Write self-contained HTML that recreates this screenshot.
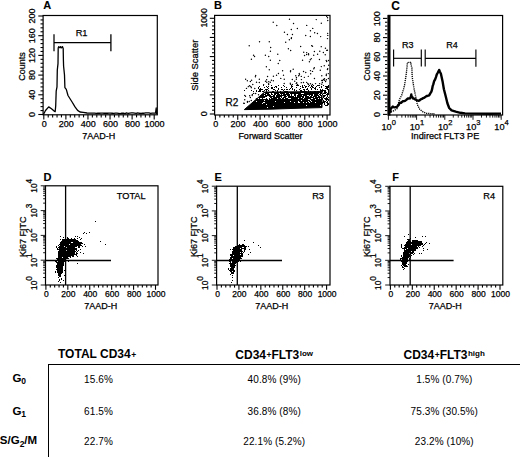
<!DOCTYPE html>
<html><head><meta charset="utf-8"><style>
html,body{margin:0;padding:0;background:#fff;}
body{width:520px;height:457px;position:relative;overflow:hidden;font-family:"Liberation Sans", sans-serif;color:#000;}
svg{position:absolute;left:0;top:0;font-family:"Liberation Sans", sans-serif;}
.hd{position:absolute;font-weight:bold;font-size:12px;line-height:14px;white-space:nowrap;}
.hd sup{font-size:8.5px;vertical-align:0;position:relative;top:-0.5px;margin-left:0.5px;}
.hd sup.w{font-size:8px;top:-2.2px;margin-left:0.5px;}
.rl{position:absolute;font-weight:bold;font-size:11.5px;line-height:14px;white-space:nowrap;}
.rl sub{font-size:8.5px;vertical-align:0;position:relative;top:2.3px;}
.cl{position:absolute;width:120px;text-align:center;font-size:10px;line-height:12px;white-space:nowrap;letter-spacing:0.1px;}
.tl{position:absolute;background:#000;}
</style></head><body>
<svg width="520" height="457" viewBox="0 0 520 457">
<text x="43.20" y="9.30" font-size="11" text-anchor="start" font-weight="bold" stroke="#000" stroke-width="0.1">A</text>
<rect x="43.10" y="15.50" width="114.20" height="99.30" fill="none" stroke="#000" stroke-width="1.2"/>
<line x1="38.30" y1="114.50" x2="43.10" y2="114.50" stroke="#000" stroke-width="1.1"/>
<line x1="40.50" y1="110.56" x2="43.10" y2="110.56" stroke="#000" stroke-width="1.1"/>
<line x1="40.50" y1="106.62" x2="43.10" y2="106.62" stroke="#000" stroke-width="1.1"/>
<line x1="40.50" y1="102.68" x2="43.10" y2="102.68" stroke="#000" stroke-width="1.1"/>
<line x1="40.50" y1="98.74" x2="43.10" y2="98.74" stroke="#000" stroke-width="1.1"/>
<line x1="38.30" y1="94.80" x2="43.10" y2="94.80" stroke="#000" stroke-width="1.1"/>
<line x1="40.50" y1="90.86" x2="43.10" y2="90.86" stroke="#000" stroke-width="1.1"/>
<line x1="40.50" y1="86.92" x2="43.10" y2="86.92" stroke="#000" stroke-width="1.1"/>
<line x1="40.50" y1="82.98" x2="43.10" y2="82.98" stroke="#000" stroke-width="1.1"/>
<line x1="40.50" y1="79.04" x2="43.10" y2="79.04" stroke="#000" stroke-width="1.1"/>
<line x1="38.30" y1="75.10" x2="43.10" y2="75.10" stroke="#000" stroke-width="1.1"/>
<line x1="40.50" y1="71.16" x2="43.10" y2="71.16" stroke="#000" stroke-width="1.1"/>
<line x1="40.50" y1="67.22" x2="43.10" y2="67.22" stroke="#000" stroke-width="1.1"/>
<line x1="40.50" y1="63.28" x2="43.10" y2="63.28" stroke="#000" stroke-width="1.1"/>
<line x1="40.50" y1="59.34" x2="43.10" y2="59.34" stroke="#000" stroke-width="1.1"/>
<line x1="38.30" y1="55.40" x2="43.10" y2="55.40" stroke="#000" stroke-width="1.1"/>
<line x1="40.50" y1="51.46" x2="43.10" y2="51.46" stroke="#000" stroke-width="1.1"/>
<line x1="40.50" y1="47.52" x2="43.10" y2="47.52" stroke="#000" stroke-width="1.1"/>
<line x1="40.50" y1="43.58" x2="43.10" y2="43.58" stroke="#000" stroke-width="1.1"/>
<line x1="40.50" y1="39.64" x2="43.10" y2="39.64" stroke="#000" stroke-width="1.1"/>
<line x1="38.30" y1="35.70" x2="43.10" y2="35.70" stroke="#000" stroke-width="1.1"/>
<line x1="40.50" y1="31.76" x2="43.10" y2="31.76" stroke="#000" stroke-width="1.1"/>
<line x1="40.50" y1="27.82" x2="43.10" y2="27.82" stroke="#000" stroke-width="1.1"/>
<line x1="40.50" y1="23.88" x2="43.10" y2="23.88" stroke="#000" stroke-width="1.1"/>
<line x1="40.50" y1="19.94" x2="43.10" y2="19.94" stroke="#000" stroke-width="1.1"/>
<line x1="38.30" y1="16.00" x2="43.10" y2="16.00" stroke="#000" stroke-width="1.1"/>
<line x1="43.80" y1="114.80" x2="43.80" y2="119.60" stroke="#000" stroke-width="1.1"/>
<line x1="48.22" y1="114.80" x2="48.22" y2="117.40" stroke="#000" stroke-width="1.1"/>
<line x1="52.63" y1="114.80" x2="52.63" y2="117.40" stroke="#000" stroke-width="1.1"/>
<line x1="57.05" y1="114.80" x2="57.05" y2="117.40" stroke="#000" stroke-width="1.1"/>
<line x1="61.46" y1="114.80" x2="61.46" y2="117.40" stroke="#000" stroke-width="1.1"/>
<line x1="65.88" y1="114.80" x2="65.88" y2="119.60" stroke="#000" stroke-width="1.1"/>
<line x1="70.30" y1="114.80" x2="70.30" y2="117.40" stroke="#000" stroke-width="1.1"/>
<line x1="74.71" y1="114.80" x2="74.71" y2="117.40" stroke="#000" stroke-width="1.1"/>
<line x1="79.13" y1="114.80" x2="79.13" y2="117.40" stroke="#000" stroke-width="1.1"/>
<line x1="83.54" y1="114.80" x2="83.54" y2="117.40" stroke="#000" stroke-width="1.1"/>
<line x1="87.96" y1="114.80" x2="87.96" y2="119.60" stroke="#000" stroke-width="1.1"/>
<line x1="92.38" y1="114.80" x2="92.38" y2="117.40" stroke="#000" stroke-width="1.1"/>
<line x1="96.79" y1="114.80" x2="96.79" y2="117.40" stroke="#000" stroke-width="1.1"/>
<line x1="101.21" y1="114.80" x2="101.21" y2="117.40" stroke="#000" stroke-width="1.1"/>
<line x1="105.62" y1="114.80" x2="105.62" y2="117.40" stroke="#000" stroke-width="1.1"/>
<line x1="110.04" y1="114.80" x2="110.04" y2="119.60" stroke="#000" stroke-width="1.1"/>
<line x1="114.46" y1="114.80" x2="114.46" y2="117.40" stroke="#000" stroke-width="1.1"/>
<line x1="118.87" y1="114.80" x2="118.87" y2="117.40" stroke="#000" stroke-width="1.1"/>
<line x1="123.29" y1="114.80" x2="123.29" y2="117.40" stroke="#000" stroke-width="1.1"/>
<line x1="127.70" y1="114.80" x2="127.70" y2="117.40" stroke="#000" stroke-width="1.1"/>
<line x1="132.12" y1="114.80" x2="132.12" y2="119.60" stroke="#000" stroke-width="1.1"/>
<line x1="136.54" y1="114.80" x2="136.54" y2="117.40" stroke="#000" stroke-width="1.1"/>
<line x1="140.95" y1="114.80" x2="140.95" y2="117.40" stroke="#000" stroke-width="1.1"/>
<line x1="145.37" y1="114.80" x2="145.37" y2="117.40" stroke="#000" stroke-width="1.1"/>
<line x1="149.78" y1="114.80" x2="149.78" y2="117.40" stroke="#000" stroke-width="1.1"/>
<line x1="154.20" y1="114.80" x2="154.20" y2="119.60" stroke="#000" stroke-width="1.1"/>
<text x="35.30" y="114.50" font-size="9" text-anchor="middle" font-weight="normal" stroke="#000" stroke-width="0.25" transform="rotate(-90 35.30 114.50)">0</text>
<text x="35.30" y="94.80" font-size="9" text-anchor="middle" font-weight="normal" stroke="#000" stroke-width="0.25" transform="rotate(-90 35.30 94.80)">40</text>
<text x="35.30" y="75.10" font-size="9" text-anchor="middle" font-weight="normal" stroke="#000" stroke-width="0.25" transform="rotate(-90 35.30 75.10)">80</text>
<text x="35.30" y="55.40" font-size="9" text-anchor="middle" font-weight="normal" stroke="#000" stroke-width="0.25" transform="rotate(-90 35.30 55.40)">120</text>
<text x="35.30" y="35.70" font-size="9" text-anchor="middle" font-weight="normal" stroke="#000" stroke-width="0.25" transform="rotate(-90 35.30 35.70)">160</text>
<text x="35.30" y="16.00" font-size="9" text-anchor="middle" font-weight="normal" stroke="#000" stroke-width="0.25" transform="rotate(-90 35.30 16.00)">200</text>
<text x="25.40" y="66.50" font-size="9" text-anchor="middle" font-weight="normal" stroke="#000" stroke-width="0.25" transform="rotate(-90 25.40 66.50)">Counts</text>
<text x="44.20" y="126.90" font-size="9" text-anchor="middle" font-weight="normal" stroke="#000" stroke-width="0.25">0</text>
<text x="66.28" y="126.90" font-size="9" text-anchor="middle" font-weight="normal" stroke="#000" stroke-width="0.25">200</text>
<text x="88.36" y="126.90" font-size="9" text-anchor="middle" font-weight="normal" stroke="#000" stroke-width="0.25">400</text>
<text x="110.44" y="126.90" font-size="9" text-anchor="middle" font-weight="normal" stroke="#000" stroke-width="0.25">600</text>
<text x="132.52" y="126.90" font-size="9" text-anchor="middle" font-weight="normal" stroke="#000" stroke-width="0.25">800</text>
<text x="154.60" y="126.90" font-size="9" text-anchor="middle" font-weight="normal" stroke="#000" stroke-width="0.25">1000</text>
<text x="98.80" y="138.90" font-size="9" text-anchor="middle" font-weight="normal" stroke="#000" stroke-width="0.25">7AAD-H</text>
<line x1="54.00" y1="34.30" x2="54.00" y2="51.30" stroke="#000" stroke-width="1.25"/>
<line x1="54.00" y1="42.60" x2="110.90" y2="42.60" stroke="#000" stroke-width="1.2"/>
<line x1="110.90" y1="34.20" x2="110.90" y2="51.30" stroke="#000" stroke-width="1.3"/>
<text x="81.60" y="36.00" font-size="9.3" text-anchor="middle" font-weight="normal" stroke="#000" stroke-width="0.25">R1</text>
<path d="M43.60,114.30 L45.50,110.50 L48.70,106.90 L51.50,108.80 L54.40,111.30 L55.20,111.50 L55.70,106.00 L56.20,91.10 L57.00,86.80 L57.30,70.00 L58.00,63.60 L58.20,48.00 L58.70,46.70 L60.00,47.80 L60.60,46.60 L61.50,47.80 L62.50,46.60 L63.20,48.50 L63.40,60.00 L63.60,66.30 L64.50,75.00 L64.90,87.60 L66.30,89.40 L68.00,95.50 L70.20,99.00 L72.40,102.50 L75.00,106.90 L77.60,110.40 L80.00,112.00 L83.20,112.40 L87.00,113.00 L91.00,113.20 L93.00,113.20 L94.60,113.15 L96.20,113.31 L97.80,113.12 L99.40,113.27 L101.00,113.22 L102.60,113.12 L104.20,113.26 L105.80,113.11 L107.40,113.24 L109.00,113.12 L110.60,113.13 L112.20,113.24 L113.80,113.36 L115.40,113.14 L117.00,113.17 L118.60,113.30 L120.20,113.56 L121.80,113.26 L123.40,113.12 L125.00,113.58 L126.60,112.84 L128.20,113.49 L129.80,113.03 L131.40,112.92 L133.00,112.89 L134.60,113.05 L136.20,113.45 L137.80,112.94 L139.40,113.27 L141.00,113.31 L142.60,113.10 L144.20,113.24 L145.80,112.85 L147.40,112.85 L149.00,112.96 L150.60,113.34 L152.20,113.14 L153.80,113.05 L155.50,113.20 L156.20,108.00 L156.60,114.00" fill="none" stroke="#000" stroke-width="1.3" stroke-linejoin="round" />
<text x="214.00" y="9.40" font-size="11" text-anchor="start" font-weight="bold" stroke="#000" stroke-width="0.1">B</text>
<rect x="214.60" y="15.40" width="115.40" height="99.60" fill="none" stroke="#000" stroke-width="1.2"/>
<line x1="209.80" y1="114.00" x2="214.60" y2="114.00" stroke="#000" stroke-width="1.1"/>
<line x1="212.00" y1="110.17" x2="214.60" y2="110.17" stroke="#000" stroke-width="1.1"/>
<line x1="212.00" y1="106.34" x2="214.60" y2="106.34" stroke="#000" stroke-width="1.1"/>
<line x1="212.00" y1="102.52" x2="214.60" y2="102.52" stroke="#000" stroke-width="1.1"/>
<line x1="212.00" y1="98.69" x2="214.60" y2="98.69" stroke="#000" stroke-width="1.1"/>
<line x1="209.80" y1="94.86" x2="214.60" y2="94.86" stroke="#000" stroke-width="1.1"/>
<line x1="212.00" y1="91.03" x2="214.60" y2="91.03" stroke="#000" stroke-width="1.1"/>
<line x1="212.00" y1="87.20" x2="214.60" y2="87.20" stroke="#000" stroke-width="1.1"/>
<line x1="212.00" y1="83.38" x2="214.60" y2="83.38" stroke="#000" stroke-width="1.1"/>
<line x1="212.00" y1="79.55" x2="214.60" y2="79.55" stroke="#000" stroke-width="1.1"/>
<line x1="209.80" y1="75.72" x2="214.60" y2="75.72" stroke="#000" stroke-width="1.1"/>
<line x1="212.00" y1="71.89" x2="214.60" y2="71.89" stroke="#000" stroke-width="1.1"/>
<line x1="212.00" y1="68.06" x2="214.60" y2="68.06" stroke="#000" stroke-width="1.1"/>
<line x1="212.00" y1="64.24" x2="214.60" y2="64.24" stroke="#000" stroke-width="1.1"/>
<line x1="212.00" y1="60.41" x2="214.60" y2="60.41" stroke="#000" stroke-width="1.1"/>
<line x1="209.80" y1="56.58" x2="214.60" y2="56.58" stroke="#000" stroke-width="1.1"/>
<line x1="212.00" y1="52.75" x2="214.60" y2="52.75" stroke="#000" stroke-width="1.1"/>
<line x1="212.00" y1="48.92" x2="214.60" y2="48.92" stroke="#000" stroke-width="1.1"/>
<line x1="212.00" y1="45.10" x2="214.60" y2="45.10" stroke="#000" stroke-width="1.1"/>
<line x1="212.00" y1="41.27" x2="214.60" y2="41.27" stroke="#000" stroke-width="1.1"/>
<line x1="209.80" y1="37.44" x2="214.60" y2="37.44" stroke="#000" stroke-width="1.1"/>
<line x1="212.00" y1="33.61" x2="214.60" y2="33.61" stroke="#000" stroke-width="1.1"/>
<line x1="212.00" y1="29.78" x2="214.60" y2="29.78" stroke="#000" stroke-width="1.1"/>
<line x1="212.00" y1="25.96" x2="214.60" y2="25.96" stroke="#000" stroke-width="1.1"/>
<line x1="212.00" y1="22.13" x2="214.60" y2="22.13" stroke="#000" stroke-width="1.1"/>
<line x1="209.80" y1="18.30" x2="214.60" y2="18.30" stroke="#000" stroke-width="1.1"/>
<line x1="215.40" y1="115.00" x2="215.40" y2="119.80" stroke="#000" stroke-width="1.1"/>
<line x1="219.87" y1="115.00" x2="219.87" y2="117.60" stroke="#000" stroke-width="1.1"/>
<line x1="224.34" y1="115.00" x2="224.34" y2="117.60" stroke="#000" stroke-width="1.1"/>
<line x1="228.80" y1="115.00" x2="228.80" y2="117.60" stroke="#000" stroke-width="1.1"/>
<line x1="233.27" y1="115.00" x2="233.27" y2="117.60" stroke="#000" stroke-width="1.1"/>
<line x1="237.74" y1="115.00" x2="237.74" y2="119.80" stroke="#000" stroke-width="1.1"/>
<line x1="242.21" y1="115.00" x2="242.21" y2="117.60" stroke="#000" stroke-width="1.1"/>
<line x1="246.68" y1="115.00" x2="246.68" y2="117.60" stroke="#000" stroke-width="1.1"/>
<line x1="251.14" y1="115.00" x2="251.14" y2="117.60" stroke="#000" stroke-width="1.1"/>
<line x1="255.61" y1="115.00" x2="255.61" y2="117.60" stroke="#000" stroke-width="1.1"/>
<line x1="260.08" y1="115.00" x2="260.08" y2="119.80" stroke="#000" stroke-width="1.1"/>
<line x1="264.55" y1="115.00" x2="264.55" y2="117.60" stroke="#000" stroke-width="1.1"/>
<line x1="269.02" y1="115.00" x2="269.02" y2="117.60" stroke="#000" stroke-width="1.1"/>
<line x1="273.48" y1="115.00" x2="273.48" y2="117.60" stroke="#000" stroke-width="1.1"/>
<line x1="277.95" y1="115.00" x2="277.95" y2="117.60" stroke="#000" stroke-width="1.1"/>
<line x1="282.42" y1="115.00" x2="282.42" y2="119.80" stroke="#000" stroke-width="1.1"/>
<line x1="286.89" y1="115.00" x2="286.89" y2="117.60" stroke="#000" stroke-width="1.1"/>
<line x1="291.36" y1="115.00" x2="291.36" y2="117.60" stroke="#000" stroke-width="1.1"/>
<line x1="295.82" y1="115.00" x2="295.82" y2="117.60" stroke="#000" stroke-width="1.1"/>
<line x1="300.29" y1="115.00" x2="300.29" y2="117.60" stroke="#000" stroke-width="1.1"/>
<line x1="304.76" y1="115.00" x2="304.76" y2="119.80" stroke="#000" stroke-width="1.1"/>
<line x1="309.23" y1="115.00" x2="309.23" y2="117.60" stroke="#000" stroke-width="1.1"/>
<line x1="313.70" y1="115.00" x2="313.70" y2="117.60" stroke="#000" stroke-width="1.1"/>
<line x1="318.16" y1="115.00" x2="318.16" y2="117.60" stroke="#000" stroke-width="1.1"/>
<line x1="322.63" y1="115.00" x2="322.63" y2="117.60" stroke="#000" stroke-width="1.1"/>
<line x1="327.10" y1="115.00" x2="327.10" y2="119.80" stroke="#000" stroke-width="1.1"/>
<text x="206.90" y="17.90" font-size="8.7" text-anchor="middle" font-weight="normal" stroke="#000" stroke-width="0.25" transform="rotate(-90 206.90 17.90)">1000</text>
<text x="206.90" y="113.80" font-size="9" text-anchor="middle" font-weight="normal" stroke="#000" stroke-width="0.25" transform="rotate(-90 206.90 113.80)">0</text>
<text x="197.60" y="65.20" font-size="9.4" text-anchor="middle" font-weight="normal" stroke="#000" stroke-width="0.25" transform="rotate(-90 197.60 65.20)">Side Scatter</text>
<text x="215.80" y="127.20" font-size="9" text-anchor="middle" font-weight="normal" stroke="#000" stroke-width="0.25">0</text>
<text x="238.14" y="127.20" font-size="9" text-anchor="middle" font-weight="normal" stroke="#000" stroke-width="0.25">200</text>
<text x="260.48" y="127.20" font-size="9" text-anchor="middle" font-weight="normal" stroke="#000" stroke-width="0.25">400</text>
<text x="282.82" y="127.20" font-size="9" text-anchor="middle" font-weight="normal" stroke="#000" stroke-width="0.25">600</text>
<text x="305.16" y="127.20" font-size="9" text-anchor="middle" font-weight="normal" stroke="#000" stroke-width="0.25">800</text>
<text x="327.50" y="127.20" font-size="9" text-anchor="middle" font-weight="normal" stroke="#000" stroke-width="0.25">1000</text>
<text x="270.40" y="139.20" font-size="9" text-anchor="middle" font-weight="normal" stroke="#000" stroke-width="0.25">Forward Scatter</text>
<path d="M244.30,109.60 L264.50,92.10 L322.00,91.60 L322.00,107.60 L300.00,108.20 L270.00,109.20Z" fill="#000" stroke="#000" stroke-width="1"/>
<path d="M264,93h1v1h-1zM269,93h2v1h-2zM272,93h2v1h-2zM279,93h1v1h-1zM285,93h1v1h-1zM289,93h1v1h-1zM301,93h3v1h-3zM319,93h1v1h-1zM266,94h1v1h-1zM270,94h1v1h-1zM273,94h1v1h-1zM276,94h1v1h-1zM280,94h1v1h-1zM282,94h1v1h-1zM290,94h1v1h-1zM292,94h2v1h-2zM296,94h2v1h-2zM313,94h1v1h-1zM318,94h1v1h-1zM321,94h1v1h-1zM264,95h1v1h-1zM271,95h2v1h-2zM275,95h1v1h-1zM286,95h1v1h-1zM290,95h1v1h-1zM292,95h2v1h-2zM296,95h1v1h-1zM302,95h1v1h-1zM307,95h2v1h-2zM310,95h1v1h-1zM313,95h1v1h-1zM319,95h1v1h-1zM267,96h2v1h-2zM275,96h1v1h-1zM282,96h2v1h-2zM287,96h1v1h-1zM294,96h1v1h-1zM296,96h1v1h-1zM304,96h1v1h-1zM309,96h1v1h-1zM312,96h1v1h-1zM317,96h1v1h-1zM320,96h1v1h-1zM265,97h5v1h-5zM272,97h1v1h-1zM280,97h1v1h-1zM282,97h1v1h-1zM286,97h2v1h-2zM301,97h1v1h-1zM304,97h1v1h-1zM314,97h1v1h-1zM258,98h1v1h-1zM260,98h2v1h-2zM263,98h3v1h-3zM267,98h2v1h-2zM270,98h1v1h-1zM277,98h1v1h-1zM281,98h1v1h-1zM284,98h1v1h-1zM288,98h3v1h-3zM298,98h1v1h-1zM303,98h1v1h-1zM311,98h2v1h-2zM318,98h1v1h-1zM320,98h1v1h-1zM268,99h1v1h-1zM308,99h2v1h-2zM315,99h1v1h-1zM264,100h1v1h-1zM301,100h1v1h-1zM310,100h1v1h-1zM256,101h1v1h-1zM275,101h1v1h-1zM290,101h1v1h-1zM298,101h1v1h-1zM308,101h1v1h-1zM311,101h1v1h-1zM263,102h2v1h-2zM284,102h1v1h-1zM294,102h1v1h-1zM298,102h2v1h-2zM303,102h1v1h-1zM306,102h1v1h-1zM309,102h1v1h-1zM315,102h1v1h-1zM262,103h1v1h-1zM266,104h1v1h-1zM306,105h1v1h-1zM320,105h1v1h-1zM273,106h1v1h-1zM267,107h1v1h-1z" fill="#fff"/>
<text x="232.00" y="106.00" font-size="10" text-anchor="middle" font-weight="normal" stroke="#000" stroke-width="0.25">R2</text>
<path d="M263,85h1v1h-1zM271,85h1v1h-1zM278,85h1v1h-1zM283,85h1v1h-1zM291,85h1v1h-1zM296,85h3v1h-3zM302,85h1v1h-1zM304,85h1v1h-1zM309,85h1v1h-1zM311,85h1v1h-1zM313,85h1v1h-1zM317,85h3v1h-3zM323,85h1v1h-1zM328,85h1v1h-1zM259,86h1v1h-1zM266,86h1v1h-1zM268,86h1v1h-1zM275,86h2v1h-2zM284,86h1v1h-1zM291,86h2v1h-2zM300,86h1v1h-1zM302,86h1v1h-1zM305,86h2v1h-2zM308,86h1v1h-1zM311,86h2v1h-2zM316,86h1v1h-1zM321,86h1v1h-1zM325,86h4v1h-4zM258,87h1v1h-1zM264,87h1v1h-1zM267,87h1v1h-1zM271,87h2v1h-2zM274,87h1v1h-1zM276,87h1v1h-1zM281,87h1v1h-1zM286,87h1v1h-1zM291,87h1v1h-1zM296,87h1v1h-1zM302,87h2v1h-2zM305,87h1v1h-1zM310,87h1v1h-1zM312,87h2v1h-2zM315,87h1v1h-1zM319,87h1v1h-1zM321,87h1v1h-1zM326,87h3v1h-3zM258,88h1v1h-1zM260,88h1v1h-1zM268,88h1v1h-1zM271,88h2v1h-2zM278,88h1v1h-1zM290,88h1v1h-1zM292,88h1v1h-1zM300,88h1v1h-1zM307,88h1v1h-1zM311,88h1v1h-1zM314,88h2v1h-2zM325,88h3v1h-3zM259,89h4v1h-4zM265,89h3v1h-3zM273,89h2v1h-2zM278,89h1v1h-1zM281,89h2v1h-2zM284,89h1v1h-1zM286,89h2v1h-2zM289,89h1v1h-1zM292,89h1v1h-1zM294,89h1v1h-1zM299,89h1v1h-1zM303,89h2v1h-2zM306,89h2v1h-2zM311,89h1v1h-1zM315,89h1v1h-1zM317,89h1v1h-1zM320,89h1v1h-1zM322,89h1v1h-1zM327,89h2v1h-2zM244,90h1v1h-1zM251,90h1v1h-1zM256,90h1v1h-1zM259,90h2v1h-2zM264,90h1v1h-1zM266,90h1v1h-1zM268,90h1v1h-1zM275,90h1v1h-1zM277,90h1v1h-1zM283,90h1v1h-1zM294,90h1v1h-1zM296,90h1v1h-1zM300,90h2v1h-2zM304,90h1v1h-1zM308,90h1v1h-1zM320,90h6v1h-6zM328,90h1v1h-1zM253,91h1v1h-1zM256,91h1v1h-1zM258,91h3v1h-3zM262,91h2v1h-2zM266,91h1v1h-1zM272,91h2v1h-2zM277,91h1v1h-1zM280,91h1v1h-1zM284,91h4v1h-4zM300,91h7v1h-7zM308,91h1v1h-1zM310,91h1v1h-1zM314,91h2v1h-2zM317,91h2v1h-2zM322,91h1v1h-1zM324,91h2v1h-2zM328,91h1v1h-1zM324,92h3v1h-3zM328,92h1v1h-1zM323,93h3v1h-3zM327,93h2v1h-2zM322,94h1v1h-1zM326,94h3v1h-3zM323,95h3v1h-3zM327,95h1v1h-1zM323,96h2v1h-2zM327,96h1v1h-1zM323,97h1v1h-1zM326,97h1v1h-1zM328,97h1v1h-1zM322,98h1v1h-1zM324,98h4v1h-4zM322,99h1v1h-1zM325,99h4v1h-4zM323,100h1v1h-1zM326,100h1v1h-1zM328,100h1v1h-1zM323,101h3v1h-3zM327,101h1v1h-1zM322,102h3v1h-3zM326,102h2v1h-2zM322,103h1v1h-1zM324,103h1v1h-1zM327,103h2v1h-2zM324,104h1v1h-1zM327,104h2v1h-2zM325,105h3v1h-3z" fill="#000"/>
<path d="M325.98,16.31a0.72,0.72 0 1,0 1.44,0a0.72,0.72 0 1,0 -1.44,0zM326.80,17.71a0.72,0.72 0 1,0 1.44,0a0.72,0.72 0 1,0 -1.44,0zM288.76,19.20a0.72,0.72 0 1,0 1.44,0a0.72,0.72 0 1,0 -1.44,0zM315.52,19.61a0.72,0.72 0 1,0 1.44,0a0.72,0.72 0 1,0 -1.44,0zM327.02,20.44a0.72,0.72 0 1,0 1.44,0a0.72,0.72 0 1,0 -1.44,0zM272.50,22.29a0.72,0.72 0 1,0 1.44,0a0.72,0.72 0 1,0 -1.44,0zM292.82,23.49a0.72,0.72 0 1,0 1.44,0a0.72,0.72 0 1,0 -1.44,0zM320.60,23.34a0.72,0.72 0 1,0 1.44,0a0.72,0.72 0 1,0 -1.44,0zM276.06,25.45a0.72,0.72 0 1,0 1.44,0a0.72,0.72 0 1,0 -1.44,0zM305.99,25.38a0.72,0.72 0 1,0 1.44,0a0.72,0.72 0 1,0 -1.44,0zM296.64,28.55a0.72,0.72 0 1,0 1.44,0a0.72,0.72 0 1,0 -1.44,0zM312.02,28.40a0.72,0.72 0 1,0 1.44,0a0.72,0.72 0 1,0 -1.44,0zM290.59,29.59a0.72,0.72 0 1,0 1.44,0a0.72,0.72 0 1,0 -1.44,0zM309.72,30.73a0.72,0.72 0 1,0 1.44,0a0.72,0.72 0 1,0 -1.44,0zM283.74,32.31a0.72,0.72 0 1,0 1.44,0a0.72,0.72 0 1,0 -1.44,0zM313.93,32.79a0.72,0.72 0 1,0 1.44,0a0.72,0.72 0 1,0 -1.44,0zM316.73,33.47a0.72,0.72 0 1,0 1.44,0a0.72,0.72 0 1,0 -1.44,0zM326.95,33.37a0.72,0.72 0 1,0 1.44,0a0.72,0.72 0 1,0 -1.44,0zM286.69,34.54a0.72,0.72 0 1,0 1.44,0a0.72,0.72 0 1,0 -1.44,0zM291.73,34.51a0.72,0.72 0 1,0 1.44,0a0.72,0.72 0 1,0 -1.44,0zM304.99,35.46a0.72,0.72 0 1,0 1.44,0a0.72,0.72 0 1,0 -1.44,0zM327.07,35.38a0.72,0.72 0 1,0 1.44,0a0.72,0.72 0 1,0 -1.44,0zM309.66,36.51a0.72,0.72 0 1,0 1.44,0a0.72,0.72 0 1,0 -1.44,0zM319.89,36.61a0.72,0.72 0 1,0 1.44,0a0.72,0.72 0 1,0 -1.44,0zM290.72,37.63a0.72,0.72 0 1,0 1.44,0a0.72,0.72 0 1,0 -1.44,0zM290.61,38.59a0.72,0.72 0 1,0 1.44,0a0.72,0.72 0 1,0 -1.44,0zM326.75,38.62a0.72,0.72 0 1,0 1.44,0a0.72,0.72 0 1,0 -1.44,0zM288.64,39.72a0.72,0.72 0 1,0 1.44,0a0.72,0.72 0 1,0 -1.44,0zM258.81,41.69a0.72,0.72 0 1,0 1.44,0a0.72,0.72 0 1,0 -1.44,0zM268.56,41.78a0.72,0.72 0 1,0 1.44,0a0.72,0.72 0 1,0 -1.44,0zM284.99,42.21a0.72,0.72 0 1,0 1.44,0a0.72,0.72 0 1,0 -1.44,0zM248.50,45.75a0.72,0.72 0 1,0 1.44,0a0.72,0.72 0 1,0 -1.44,0zM310.90,45.64a0.72,0.72 0 1,0 1.44,0a0.72,0.72 0 1,0 -1.44,0zM299.93,46.59a0.72,0.72 0 1,0 1.44,0a0.72,0.72 0 1,0 -1.44,0zM311.79,46.25a0.72,0.72 0 1,0 1.44,0a0.72,0.72 0 1,0 -1.44,0zM320.54,46.65a0.72,0.72 0 1,0 1.44,0a0.72,0.72 0 1,0 -1.44,0zM269.94,47.41a0.72,0.72 0 1,0 1.44,0a0.72,0.72 0 1,0 -1.44,0zM287.68,48.69a0.72,0.72 0 1,0 1.44,0a0.72,0.72 0 1,0 -1.44,0zM324.73,48.34a0.72,0.72 0 1,0 1.44,0a0.72,0.72 0 1,0 -1.44,0zM289.94,50.42a0.72,0.72 0 1,0 1.44,0a0.72,0.72 0 1,0 -1.44,0zM326.06,50.40a0.72,0.72 0 1,0 1.44,0a0.72,0.72 0 1,0 -1.44,0zM326.68,50.27a0.72,0.72 0 1,0 1.44,0a0.72,0.72 0 1,0 -1.44,0zM269.71,51.30a0.72,0.72 0 1,0 1.44,0a0.72,0.72 0 1,0 -1.44,0zM313.68,51.46a0.72,0.72 0 1,0 1.44,0a0.72,0.72 0 1,0 -1.44,0zM319.07,51.24a0.72,0.72 0 1,0 1.44,0a0.72,0.72 0 1,0 -1.44,0zM303.01,52.23a0.72,0.72 0 1,0 1.44,0a0.72,0.72 0 1,0 -1.44,0zM305.96,52.61a0.72,0.72 0 1,0 1.44,0a0.72,0.72 0 1,0 -1.44,0zM322.66,52.57a0.72,0.72 0 1,0 1.44,0a0.72,0.72 0 1,0 -1.44,0zM307.79,53.74a0.72,0.72 0 1,0 1.44,0a0.72,0.72 0 1,0 -1.44,0zM277.05,54.21a0.72,0.72 0 1,0 1.44,0a0.72,0.72 0 1,0 -1.44,0zM305.93,54.45a0.72,0.72 0 1,0 1.44,0a0.72,0.72 0 1,0 -1.44,0zM307.88,54.72a0.72,0.72 0 1,0 1.44,0a0.72,0.72 0 1,0 -1.44,0zM316.86,54.29a0.72,0.72 0 1,0 1.44,0a0.72,0.72 0 1,0 -1.44,0zM324.52,54.80a0.72,0.72 0 1,0 1.44,0a0.72,0.72 0 1,0 -1.44,0zM252.83,55.23a0.72,0.72 0 1,0 1.44,0a0.72,0.72 0 1,0 -1.44,0zM264.68,55.22a0.72,0.72 0 1,0 1.44,0a0.72,0.72 0 1,0 -1.44,0zM303.83,55.54a0.72,0.72 0 1,0 1.44,0a0.72,0.72 0 1,0 -1.44,0zM313.01,55.25a0.72,0.72 0 1,0 1.44,0a0.72,0.72 0 1,0 -1.44,0zM253.82,56.43a0.72,0.72 0 1,0 1.44,0a0.72,0.72 0 1,0 -1.44,0zM268.01,56.59a0.72,0.72 0 1,0 1.44,0a0.72,0.72 0 1,0 -1.44,0zM310.57,58.63a0.72,0.72 0 1,0 1.44,0a0.72,0.72 0 1,0 -1.44,0zM250.69,59.32a0.72,0.72 0 1,0 1.44,0a0.72,0.72 0 1,0 -1.44,0zM309.53,59.71a0.72,0.72 0 1,0 1.44,0a0.72,0.72 0 1,0 -1.44,0zM318.72,59.47a0.72,0.72 0 1,0 1.44,0a0.72,0.72 0 1,0 -1.44,0zM269.63,60.26a0.72,0.72 0 1,0 1.44,0a0.72,0.72 0 1,0 -1.44,0zM279.04,60.47a0.72,0.72 0 1,0 1.44,0a0.72,0.72 0 1,0 -1.44,0zM301.83,60.21a0.72,0.72 0 1,0 1.44,0a0.72,0.72 0 1,0 -1.44,0zM325.51,60.43a0.72,0.72 0 1,0 1.44,0a0.72,0.72 0 1,0 -1.44,0zM327.75,60.41a0.72,0.72 0 1,0 1.44,0a0.72,0.72 0 1,0 -1.44,0zM308.68,61.71a0.72,0.72 0 1,0 1.44,0a0.72,0.72 0 1,0 -1.44,0zM325.94,61.58a0.72,0.72 0 1,0 1.44,0a0.72,0.72 0 1,0 -1.44,0zM277.54,63.48a0.72,0.72 0 1,0 1.44,0a0.72,0.72 0 1,0 -1.44,0zM323.55,65.77a0.72,0.72 0 1,0 1.44,0a0.72,0.72 0 1,0 -1.44,0zM327.97,65.33a0.72,0.72 0 1,0 1.44,0a0.72,0.72 0 1,0 -1.44,0zM265.67,66.66a0.72,0.72 0 1,0 1.44,0a0.72,0.72 0 1,0 -1.44,0zM320.60,66.62a0.72,0.72 0 1,0 1.44,0a0.72,0.72 0 1,0 -1.44,0zM313.60,67.66a0.72,0.72 0 1,0 1.44,0a0.72,0.72 0 1,0 -1.44,0zM313.03,68.66a0.72,0.72 0 1,0 1.44,0a0.72,0.72 0 1,0 -1.44,0zM326.98,68.71a0.72,0.72 0 1,0 1.44,0a0.72,0.72 0 1,0 -1.44,0zM268.56,69.77a0.72,0.72 0 1,0 1.44,0a0.72,0.72 0 1,0 -1.44,0zM292.48,69.23a0.72,0.72 0 1,0 1.44,0a0.72,0.72 0 1,0 -1.44,0zM326.72,69.42a0.72,0.72 0 1,0 1.44,0a0.72,0.72 0 1,0 -1.44,0zM281.89,70.75a0.72,0.72 0 1,0 1.44,0a0.72,0.72 0 1,0 -1.44,0zM289.87,70.79a0.72,0.72 0 1,0 1.44,0a0.72,0.72 0 1,0 -1.44,0zM309.77,70.65a0.72,0.72 0 1,0 1.44,0a0.72,0.72 0 1,0 -1.44,0zM319.57,70.31a0.72,0.72 0 1,0 1.44,0a0.72,0.72 0 1,0 -1.44,0zM289.78,71.77a0.72,0.72 0 1,0 1.44,0a0.72,0.72 0 1,0 -1.44,0zM302.83,71.49a0.72,0.72 0 1,0 1.44,0a0.72,0.72 0 1,0 -1.44,0zM311.79,71.40a0.72,0.72 0 1,0 1.44,0a0.72,0.72 0 1,0 -1.44,0zM305.04,72.42a0.72,0.72 0 1,0 1.44,0a0.72,0.72 0 1,0 -1.44,0zM277.73,73.58a0.72,0.72 0 1,0 1.44,0a0.72,0.72 0 1,0 -1.44,0zM298.53,73.52a0.72,0.72 0 1,0 1.44,0a0.72,0.72 0 1,0 -1.44,0zM309.91,73.67a0.72,0.72 0 1,0 1.44,0a0.72,0.72 0 1,0 -1.44,0zM327.61,73.62a0.72,0.72 0 1,0 1.44,0a0.72,0.72 0 1,0 -1.44,0zM298.77,74.75a0.72,0.72 0 1,0 1.44,0a0.72,0.72 0 1,0 -1.44,0zM325.66,74.22a0.72,0.72 0 1,0 1.44,0a0.72,0.72 0 1,0 -1.44,0zM254.97,75.45a0.72,0.72 0 1,0 1.44,0a0.72,0.72 0 1,0 -1.44,0zM275.82,75.32a0.72,0.72 0 1,0 1.44,0a0.72,0.72 0 1,0 -1.44,0zM282.76,75.26a0.72,0.72 0 1,0 1.44,0a0.72,0.72 0 1,0 -1.44,0zM295.00,75.68a0.72,0.72 0 1,0 1.44,0a0.72,0.72 0 1,0 -1.44,0zM297.90,75.71a0.72,0.72 0 1,0 1.44,0a0.72,0.72 0 1,0 -1.44,0zM321.04,75.79a0.72,0.72 0 1,0 1.44,0a0.72,0.72 0 1,0 -1.44,0zM325.55,75.58a0.72,0.72 0 1,0 1.44,0a0.72,0.72 0 1,0 -1.44,0zM254.69,76.78a0.72,0.72 0 1,0 1.44,0a0.72,0.72 0 1,0 -1.44,0zM266.83,76.47a0.72,0.72 0 1,0 1.44,0a0.72,0.72 0 1,0 -1.44,0zM272.70,76.30a0.72,0.72 0 1,0 1.44,0a0.72,0.72 0 1,0 -1.44,0zM300.59,76.40a0.72,0.72 0 1,0 1.44,0a0.72,0.72 0 1,0 -1.44,0zM307.59,76.35a0.72,0.72 0 1,0 1.44,0a0.72,0.72 0 1,0 -1.44,0zM295.75,77.50a0.72,0.72 0 1,0 1.44,0a0.72,0.72 0 1,0 -1.44,0zM303.66,77.35a0.72,0.72 0 1,0 1.44,0a0.72,0.72 0 1,0 -1.44,0zM280.04,78.40a0.72,0.72 0 1,0 1.44,0a0.72,0.72 0 1,0 -1.44,0zM313.72,78.52a0.72,0.72 0 1,0 1.44,0a0.72,0.72 0 1,0 -1.44,0zM323.79,78.61a0.72,0.72 0 1,0 1.44,0a0.72,0.72 0 1,0 -1.44,0zM327.69,78.45a0.72,0.72 0 1,0 1.44,0a0.72,0.72 0 1,0 -1.44,0zM244.90,79.26a0.72,0.72 0 1,0 1.44,0a0.72,0.72 0 1,0 -1.44,0zM258.63,79.33a0.72,0.72 0 1,0 1.44,0a0.72,0.72 0 1,0 -1.44,0zM265.90,79.78a0.72,0.72 0 1,0 1.44,0a0.72,0.72 0 1,0 -1.44,0zM283.54,79.33a0.72,0.72 0 1,0 1.44,0a0.72,0.72 0 1,0 -1.44,0zM291.59,79.47a0.72,0.72 0 1,0 1.44,0a0.72,0.72 0 1,0 -1.44,0zM295.62,79.29a0.72,0.72 0 1,0 1.44,0a0.72,0.72 0 1,0 -1.44,0zM300.72,79.60a0.72,0.72 0 1,0 1.44,0a0.72,0.72 0 1,0 -1.44,0zM322.80,79.55a0.72,0.72 0 1,0 1.44,0a0.72,0.72 0 1,0 -1.44,0zM325.75,79.70a0.72,0.72 0 1,0 1.44,0a0.72,0.72 0 1,0 -1.44,0zM246.62,80.76a0.72,0.72 0 1,0 1.44,0a0.72,0.72 0 1,0 -1.44,0zM250.88,80.20a0.72,0.72 0 1,0 1.44,0a0.72,0.72 0 1,0 -1.44,0zM270.67,80.33a0.72,0.72 0 1,0 1.44,0a0.72,0.72 0 1,0 -1.44,0zM272.61,80.79a0.72,0.72 0 1,0 1.44,0a0.72,0.72 0 1,0 -1.44,0zM321.05,80.44a0.72,0.72 0 1,0 1.44,0a0.72,0.72 0 1,0 -1.44,0zM321.74,80.58a0.72,0.72 0 1,0 1.44,0a0.72,0.72 0 1,0 -1.44,0zM323.97,80.28a0.72,0.72 0 1,0 1.44,0a0.72,0.72 0 1,0 -1.44,0zM249.64,81.46a0.72,0.72 0 1,0 1.44,0a0.72,0.72 0 1,0 -1.44,0zM264.80,81.29a0.72,0.72 0 1,0 1.44,0a0.72,0.72 0 1,0 -1.44,0zM268.01,81.64a0.72,0.72 0 1,0 1.44,0a0.72,0.72 0 1,0 -1.44,0zM294.02,81.33a0.72,0.72 0 1,0 1.44,0a0.72,0.72 0 1,0 -1.44,0zM324.86,81.59a0.72,0.72 0 1,0 1.44,0a0.72,0.72 0 1,0 -1.44,0zM255.81,82.26a0.72,0.72 0 1,0 1.44,0a0.72,0.72 0 1,0 -1.44,0zM258.59,82.44a0.72,0.72 0 1,0 1.44,0a0.72,0.72 0 1,0 -1.44,0zM266.04,82.30a0.72,0.72 0 1,0 1.44,0a0.72,0.72 0 1,0 -1.44,0zM269.58,82.29a0.72,0.72 0 1,0 1.44,0a0.72,0.72 0 1,0 -1.44,0zM295.98,82.69a0.72,0.72 0 1,0 1.44,0a0.72,0.72 0 1,0 -1.44,0zM300.57,82.64a0.72,0.72 0 1,0 1.44,0a0.72,0.72 0 1,0 -1.44,0zM302.77,82.59a0.72,0.72 0 1,0 1.44,0a0.72,0.72 0 1,0 -1.44,0zM305.89,82.37a0.72,0.72 0 1,0 1.44,0a0.72,0.72 0 1,0 -1.44,0zM321.60,82.50a0.72,0.72 0 1,0 1.44,0a0.72,0.72 0 1,0 -1.44,0zM267.87,83.68a0.72,0.72 0 1,0 1.44,0a0.72,0.72 0 1,0 -1.44,0zM283.49,83.56a0.72,0.72 0 1,0 1.44,0a0.72,0.72 0 1,0 -1.44,0zM289.54,83.29a0.72,0.72 0 1,0 1.44,0a0.72,0.72 0 1,0 -1.44,0zM295.53,83.52a0.72,0.72 0 1,0 1.44,0a0.72,0.72 0 1,0 -1.44,0zM307.06,83.58a0.72,0.72 0 1,0 1.44,0a0.72,0.72 0 1,0 -1.44,0zM309.73,83.77a0.72,0.72 0 1,0 1.44,0a0.72,0.72 0 1,0 -1.44,0zM314.80,83.61a0.72,0.72 0 1,0 1.44,0a0.72,0.72 0 1,0 -1.44,0zM318.88,83.63a0.72,0.72 0 1,0 1.44,0a0.72,0.72 0 1,0 -1.44,0zM252.07,84.58a0.72,0.72 0 1,0 1.44,0a0.72,0.72 0 1,0 -1.44,0zM262.90,84.60a0.72,0.72 0 1,0 1.44,0a0.72,0.72 0 1,0 -1.44,0zM267.92,84.53a0.72,0.72 0 1,0 1.44,0a0.72,0.72 0 1,0 -1.44,0zM289.82,84.29a0.72,0.72 0 1,0 1.44,0a0.72,0.72 0 1,0 -1.44,0zM291.69,84.57a0.72,0.72 0 1,0 1.44,0a0.72,0.72 0 1,0 -1.44,0zM296.81,84.41a0.72,0.72 0 1,0 1.44,0a0.72,0.72 0 1,0 -1.44,0zM307.71,84.52a0.72,0.72 0 1,0 1.44,0a0.72,0.72 0 1,0 -1.44,0zM311.72,84.50a0.72,0.72 0 1,0 1.44,0a0.72,0.72 0 1,0 -1.44,0zM321.01,84.30a0.72,0.72 0 1,0 1.44,0a0.72,0.72 0 1,0 -1.44,0zM248.77,85.74a0.72,0.72 0 1,0 1.44,0a0.72,0.72 0 1,0 -1.44,0zM247.59,86.65a0.72,0.72 0 1,0 1.44,0a0.72,0.72 0 1,0 -1.44,0zM250.06,86.56a0.72,0.72 0 1,0 1.44,0a0.72,0.72 0 1,0 -1.44,0zM250.65,87.64a0.72,0.72 0 1,0 1.44,0a0.72,0.72 0 1,0 -1.44,0zM245.76,88.39a0.72,0.72 0 1,0 1.44,0a0.72,0.72 0 1,0 -1.44,0zM254.07,88.50a0.72,0.72 0 1,0 1.44,0a0.72,0.72 0 1,0 -1.44,0zM252.97,93.39a0.72,0.72 0 1,0 1.44,0a0.72,0.72 0 1,0 -1.44,0zM254.95,93.52a0.72,0.72 0 1,0 1.44,0a0.72,0.72 0 1,0 -1.44,0zM251.63,94.59a0.72,0.72 0 1,0 1.44,0a0.72,0.72 0 1,0 -1.44,0zM257.81,94.66a0.72,0.72 0 1,0 1.44,0a0.72,0.72 0 1,0 -1.44,0zM243.90,95.36a0.72,0.72 0 1,0 1.44,0a0.72,0.72 0 1,0 -1.44,0zM248.93,95.72a0.72,0.72 0 1,0 1.44,0a0.72,0.72 0 1,0 -1.44,0zM251.48,95.41a0.72,0.72 0 1,0 1.44,0a0.72,0.72 0 1,0 -1.44,0zM244.79,96.23a0.72,0.72 0 1,0 1.44,0a0.72,0.72 0 1,0 -1.44,0zM249.63,97.48a0.72,0.72 0 1,0 1.44,0a0.72,0.72 0 1,0 -1.44,0zM255.71,98.78a0.72,0.72 0 1,0 1.44,0a0.72,0.72 0 1,0 -1.44,0zM244.00,99.72a0.72,0.72 0 1,0 1.44,0a0.72,0.72 0 1,0 -1.44,0zM250.53,100.52a0.72,0.72 0 1,0 1.44,0a0.72,0.72 0 1,0 -1.44,0zM246.73,101.56a0.72,0.72 0 1,0 1.44,0a0.72,0.72 0 1,0 -1.44,0zM248.51,101.41a0.72,0.72 0 1,0 1.44,0a0.72,0.72 0 1,0 -1.44,0zM246.75,102.27a0.72,0.72 0 1,0 1.44,0a0.72,0.72 0 1,0 -1.44,0zM242.99,103.31a0.72,0.72 0 1,0 1.44,0a0.72,0.72 0 1,0 -1.44,0zM243.67,103.36a0.72,0.72 0 1,0 1.44,0a0.72,0.72 0 1,0 -1.44,0z" fill="#000"/>
<text x="391.20" y="10.30" font-size="12" text-anchor="start" font-weight="bold" stroke="#000" stroke-width="0.1">C</text>
<rect x="388.40" y="15.50" width="114.20" height="99.50" fill="none" stroke="#000" stroke-width="1.2"/>
<line x1="389.00" y1="14.90" x2="389.00" y2="115.60" stroke="#000" stroke-width="3.0"/>
<line x1="383.00" y1="114.40" x2="387.40" y2="114.40" stroke="#000" stroke-width="1.1"/>
<line x1="385.00" y1="110.56" x2="387.40" y2="110.56" stroke="#000" stroke-width="1.1"/>
<line x1="385.00" y1="106.72" x2="387.40" y2="106.72" stroke="#000" stroke-width="1.1"/>
<line x1="385.00" y1="102.88" x2="387.40" y2="102.88" stroke="#000" stroke-width="1.1"/>
<line x1="385.00" y1="99.04" x2="387.40" y2="99.04" stroke="#000" stroke-width="1.1"/>
<line x1="383.00" y1="95.20" x2="387.40" y2="95.20" stroke="#000" stroke-width="1.1"/>
<line x1="385.00" y1="91.36" x2="387.40" y2="91.36" stroke="#000" stroke-width="1.1"/>
<line x1="385.00" y1="87.52" x2="387.40" y2="87.52" stroke="#000" stroke-width="1.1"/>
<line x1="385.00" y1="83.68" x2="387.40" y2="83.68" stroke="#000" stroke-width="1.1"/>
<line x1="385.00" y1="79.84" x2="387.40" y2="79.84" stroke="#000" stroke-width="1.1"/>
<line x1="383.00" y1="76.00" x2="387.40" y2="76.00" stroke="#000" stroke-width="1.1"/>
<line x1="385.00" y1="72.16" x2="387.40" y2="72.16" stroke="#000" stroke-width="1.1"/>
<line x1="385.00" y1="68.32" x2="387.40" y2="68.32" stroke="#000" stroke-width="1.1"/>
<line x1="385.00" y1="64.48" x2="387.40" y2="64.48" stroke="#000" stroke-width="1.1"/>
<line x1="385.00" y1="60.64" x2="387.40" y2="60.64" stroke="#000" stroke-width="1.1"/>
<line x1="383.00" y1="56.80" x2="387.40" y2="56.80" stroke="#000" stroke-width="1.1"/>
<line x1="385.00" y1="52.96" x2="387.40" y2="52.96" stroke="#000" stroke-width="1.1"/>
<line x1="385.00" y1="49.12" x2="387.40" y2="49.12" stroke="#000" stroke-width="1.1"/>
<line x1="385.00" y1="45.28" x2="387.40" y2="45.28" stroke="#000" stroke-width="1.1"/>
<line x1="385.00" y1="41.44" x2="387.40" y2="41.44" stroke="#000" stroke-width="1.1"/>
<line x1="383.00" y1="37.60" x2="387.40" y2="37.60" stroke="#000" stroke-width="1.1"/>
<line x1="385.00" y1="33.76" x2="387.40" y2="33.76" stroke="#000" stroke-width="1.1"/>
<line x1="385.00" y1="29.92" x2="387.40" y2="29.92" stroke="#000" stroke-width="1.1"/>
<line x1="385.00" y1="26.08" x2="387.40" y2="26.08" stroke="#000" stroke-width="1.1"/>
<line x1="385.00" y1="22.24" x2="387.40" y2="22.24" stroke="#000" stroke-width="1.1"/>
<line x1="383.00" y1="18.40" x2="387.40" y2="18.40" stroke="#000" stroke-width="1.1"/>
<line x1="388.40" y1="115.00" x2="388.40" y2="119.80" stroke="#000" stroke-width="0.9"/>
<line x1="396.89" y1="115.00" x2="396.89" y2="117.60" stroke="#000" stroke-width="0.9"/>
<line x1="401.85" y1="115.00" x2="401.85" y2="117.60" stroke="#000" stroke-width="0.9"/>
<line x1="405.38" y1="115.00" x2="405.38" y2="117.60" stroke="#000" stroke-width="0.9"/>
<line x1="408.11" y1="115.00" x2="408.11" y2="117.60" stroke="#000" stroke-width="0.9"/>
<line x1="410.34" y1="115.00" x2="410.34" y2="117.60" stroke="#000" stroke-width="0.9"/>
<line x1="412.23" y1="115.00" x2="412.23" y2="117.60" stroke="#000" stroke-width="0.9"/>
<line x1="413.87" y1="115.00" x2="413.87" y2="117.60" stroke="#000" stroke-width="0.9"/>
<line x1="415.31" y1="115.00" x2="415.31" y2="117.60" stroke="#000" stroke-width="0.9"/>
<line x1="416.60" y1="115.00" x2="416.60" y2="119.80" stroke="#000" stroke-width="0.9"/>
<line x1="425.09" y1="115.00" x2="425.09" y2="117.60" stroke="#000" stroke-width="0.9"/>
<line x1="430.05" y1="115.00" x2="430.05" y2="117.60" stroke="#000" stroke-width="0.9"/>
<line x1="433.58" y1="115.00" x2="433.58" y2="117.60" stroke="#000" stroke-width="0.9"/>
<line x1="436.31" y1="115.00" x2="436.31" y2="117.60" stroke="#000" stroke-width="0.9"/>
<line x1="438.54" y1="115.00" x2="438.54" y2="117.60" stroke="#000" stroke-width="0.9"/>
<line x1="440.43" y1="115.00" x2="440.43" y2="117.60" stroke="#000" stroke-width="0.9"/>
<line x1="442.07" y1="115.00" x2="442.07" y2="117.60" stroke="#000" stroke-width="0.9"/>
<line x1="443.51" y1="115.00" x2="443.51" y2="117.60" stroke="#000" stroke-width="0.9"/>
<line x1="444.80" y1="115.00" x2="444.80" y2="119.80" stroke="#000" stroke-width="0.9"/>
<line x1="453.29" y1="115.00" x2="453.29" y2="117.60" stroke="#000" stroke-width="0.9"/>
<line x1="458.25" y1="115.00" x2="458.25" y2="117.60" stroke="#000" stroke-width="0.9"/>
<line x1="461.78" y1="115.00" x2="461.78" y2="117.60" stroke="#000" stroke-width="0.9"/>
<line x1="464.51" y1="115.00" x2="464.51" y2="117.60" stroke="#000" stroke-width="0.9"/>
<line x1="466.74" y1="115.00" x2="466.74" y2="117.60" stroke="#000" stroke-width="0.9"/>
<line x1="468.63" y1="115.00" x2="468.63" y2="117.60" stroke="#000" stroke-width="0.9"/>
<line x1="470.27" y1="115.00" x2="470.27" y2="117.60" stroke="#000" stroke-width="0.9"/>
<line x1="471.71" y1="115.00" x2="471.71" y2="117.60" stroke="#000" stroke-width="0.9"/>
<line x1="473.00" y1="115.00" x2="473.00" y2="119.80" stroke="#000" stroke-width="0.9"/>
<line x1="481.49" y1="115.00" x2="481.49" y2="117.60" stroke="#000" stroke-width="0.9"/>
<line x1="486.45" y1="115.00" x2="486.45" y2="117.60" stroke="#000" stroke-width="0.9"/>
<line x1="489.98" y1="115.00" x2="489.98" y2="117.60" stroke="#000" stroke-width="0.9"/>
<line x1="492.71" y1="115.00" x2="492.71" y2="117.60" stroke="#000" stroke-width="0.9"/>
<line x1="494.94" y1="115.00" x2="494.94" y2="117.60" stroke="#000" stroke-width="0.9"/>
<line x1="496.83" y1="115.00" x2="496.83" y2="117.60" stroke="#000" stroke-width="0.9"/>
<line x1="498.47" y1="115.00" x2="498.47" y2="117.60" stroke="#000" stroke-width="0.9"/>
<line x1="499.91" y1="115.00" x2="499.91" y2="117.60" stroke="#000" stroke-width="0.9"/>
<line x1="501.20" y1="115.00" x2="501.20" y2="119.80" stroke="#000" stroke-width="0.9"/>
<text x="379.60" y="114.40" font-size="9" text-anchor="middle" font-weight="normal" stroke="#000" stroke-width="0.25" transform="rotate(-90 379.60 114.40)">0</text>
<text x="379.60" y="95.20" font-size="9" text-anchor="middle" font-weight="normal" stroke="#000" stroke-width="0.25" transform="rotate(-90 379.60 95.20)">20</text>
<text x="379.60" y="76.00" font-size="9" text-anchor="middle" font-weight="normal" stroke="#000" stroke-width="0.25" transform="rotate(-90 379.60 76.00)">40</text>
<text x="379.60" y="56.80" font-size="9" text-anchor="middle" font-weight="normal" stroke="#000" stroke-width="0.25" transform="rotate(-90 379.60 56.80)">60</text>
<text x="379.60" y="37.60" font-size="9" text-anchor="middle" font-weight="normal" stroke="#000" stroke-width="0.25" transform="rotate(-90 379.60 37.60)">80</text>
<text x="379.60" y="18.70" font-size="9" text-anchor="middle" font-weight="normal" stroke="#000" stroke-width="0.25" transform="rotate(-90 379.60 18.70)">100</text>
<text x="369.60" y="66.50" font-size="9" text-anchor="middle" font-weight="normal" stroke="#000" stroke-width="0.25" transform="rotate(-90 369.60 66.50)">Counts</text>
<text x="388.70" y="130.10" font-size="9.2" text-anchor="middle" stroke="#000" stroke-width="0.25">10<tspan dy="-5.4" font-size="7.5">0</tspan></text>
<text x="416.90" y="130.10" font-size="9.2" text-anchor="middle" stroke="#000" stroke-width="0.25">10<tspan dy="-5.4" font-size="7.5">1</tspan></text>
<text x="445.10" y="130.10" font-size="9.2" text-anchor="middle" stroke="#000" stroke-width="0.25">10<tspan dy="-5.4" font-size="7.5">2</tspan></text>
<text x="473.30" y="130.10" font-size="9.2" text-anchor="middle" stroke="#000" stroke-width="0.25">10<tspan dy="-5.4" font-size="7.5">3</tspan></text>
<text x="501.50" y="130.10" font-size="9.2" text-anchor="middle" stroke="#000" stroke-width="0.25">10<tspan dy="-5.4" font-size="7.5">4</tspan></text>
<text x="445.20" y="138.60" font-size="9.2" text-anchor="middle" font-weight="normal" stroke="#000" stroke-width="0.25">Indirect FLT3 PE</text>
<line x1="393.60" y1="49.50" x2="393.60" y2="66.60" stroke="#000" stroke-width="1.15"/>
<line x1="393.60" y1="58.30" x2="421.30" y2="58.30" stroke="#000" stroke-width="1.15"/>
<line x1="421.30" y1="49.50" x2="421.30" y2="66.60" stroke="#000" stroke-width="1.15"/>
<line x1="425.20" y1="49.50" x2="425.20" y2="66.60" stroke="#000" stroke-width="1.15"/>
<line x1="425.20" y1="58.30" x2="475.90" y2="58.30" stroke="#000" stroke-width="1.15"/>
<line x1="475.90" y1="49.40" x2="475.90" y2="66.80" stroke="#000" stroke-width="1.15"/>
<text x="407.80" y="48.00" font-size="9" text-anchor="middle" font-weight="normal" stroke="#000" stroke-width="0.25">R3</text>
<text x="452.00" y="48.00" font-size="9" text-anchor="middle" font-weight="normal" stroke="#000" stroke-width="0.25">R4</text>
<path d="M391.00,112.00 L394.50,110.40 L397.00,108.70 L399.50,99.40 L401.70,95.20 L403.70,88.70 L404.80,84.00 L405.30,80.00 L406.00,76.00 L406.60,71.00 L407.10,66.00 L407.40,62.60 L409.00,62.30 L410.80,62.50 L411.10,65.00 L411.90,68.00 L412.10,75.00 L412.50,79.00 L413.00,82.00 L413.60,86.00 L414.30,90.00 L415.60,96.00 L417.30,104.50 L419.80,109.50 L423.20,112.00 L426.60,113.30 L435.00,113.90" fill="none" stroke="#000" stroke-width="1.35" stroke-linejoin="round" stroke-dasharray="1.2,0.9"/>
<path d="M390.20,112.90 L390.70,108.70 L392.80,106.60 L393.62,107.08 L394.50,107.40 L395.80,107.15 L396.60,107.00 L397.65,106.07 L398.70,104.90 L399.16,103.87 L400.00,102.80 L401.13,102.76 L402.10,101.90 L402.91,101.22 L404.20,101.10 L405.00,100.88 L406.30,99.80 L407.67,98.51 L408.80,98.50 L409.99,98.40 L410.60,97.00 L411.04,95.91 L411.30,94.50 L411.34,95.07 L411.80,97.00 L412.47,97.13 L413.10,98.50 L413.96,98.59 L415.20,99.40 L416.37,100.00 L418.10,100.70 L419.36,100.53 L420.70,99.40 L421.96,98.95 L423.20,98.10 L424.50,97.58 L425.80,96.60 L426.57,95.99 L427.40,96.00 L429.15,95.34 L430.30,93.30 L431.40,91.54 L432.10,89.20 L432.59,86.42 L433.30,84.40 L434.02,81.45 L435.00,79.70 L436.06,76.91 L436.80,74.40 L437.91,72.49 L438.60,70.90 L439.17,70.89 L439.20,69.90 L439.75,71.44 L440.90,73.80 L442.70,82.10 L443.90,89.20 L445.70,96.20 L447.40,103.30 L449.20,108.00 L451.60,110.40 L455.70,111.60 L460.40,112.80 L465.00,113.40 L475.00,113.60 L490.00,113.70 L501.00,113.60" fill="none" stroke="#000" stroke-width="2.4" stroke-linejoin="round" />
<text x="43.40" y="180.80" font-size="11" text-anchor="start" font-weight="bold" stroke="#000" stroke-width="0.1">D</text>
<rect x="45.50" y="185.80" width="112.50" height="99.20" fill="none" stroke="#000" stroke-width="1.2"/>
<line x1="40.70" y1="285.00" x2="45.50" y2="285.00" stroke="#000" stroke-width="0.9"/>
<line x1="43.10" y1="277.53" x2="45.50" y2="277.53" stroke="#000" stroke-width="0.9"/>
<line x1="43.10" y1="273.17" x2="45.50" y2="273.17" stroke="#000" stroke-width="0.9"/>
<line x1="43.10" y1="270.07" x2="45.50" y2="270.07" stroke="#000" stroke-width="0.9"/>
<line x1="43.10" y1="267.67" x2="45.50" y2="267.67" stroke="#000" stroke-width="0.9"/>
<line x1="43.10" y1="265.70" x2="45.50" y2="265.70" stroke="#000" stroke-width="0.9"/>
<line x1="43.10" y1="264.04" x2="45.50" y2="264.04" stroke="#000" stroke-width="0.9"/>
<line x1="43.10" y1="262.60" x2="45.50" y2="262.60" stroke="#000" stroke-width="0.9"/>
<line x1="43.10" y1="261.33" x2="45.50" y2="261.33" stroke="#000" stroke-width="0.9"/>
<line x1="40.70" y1="260.20" x2="45.50" y2="260.20" stroke="#000" stroke-width="0.9"/>
<line x1="43.10" y1="252.73" x2="45.50" y2="252.73" stroke="#000" stroke-width="0.9"/>
<line x1="43.10" y1="248.37" x2="45.50" y2="248.37" stroke="#000" stroke-width="0.9"/>
<line x1="43.10" y1="245.27" x2="45.50" y2="245.27" stroke="#000" stroke-width="0.9"/>
<line x1="43.10" y1="242.87" x2="45.50" y2="242.87" stroke="#000" stroke-width="0.9"/>
<line x1="43.10" y1="240.90" x2="45.50" y2="240.90" stroke="#000" stroke-width="0.9"/>
<line x1="43.10" y1="239.24" x2="45.50" y2="239.24" stroke="#000" stroke-width="0.9"/>
<line x1="43.10" y1="237.80" x2="45.50" y2="237.80" stroke="#000" stroke-width="0.9"/>
<line x1="43.10" y1="236.53" x2="45.50" y2="236.53" stroke="#000" stroke-width="0.9"/>
<line x1="40.70" y1="235.40" x2="45.50" y2="235.40" stroke="#000" stroke-width="0.9"/>
<line x1="43.10" y1="227.93" x2="45.50" y2="227.93" stroke="#000" stroke-width="0.9"/>
<line x1="43.10" y1="223.57" x2="45.50" y2="223.57" stroke="#000" stroke-width="0.9"/>
<line x1="43.10" y1="220.47" x2="45.50" y2="220.47" stroke="#000" stroke-width="0.9"/>
<line x1="43.10" y1="218.07" x2="45.50" y2="218.07" stroke="#000" stroke-width="0.9"/>
<line x1="43.10" y1="216.10" x2="45.50" y2="216.10" stroke="#000" stroke-width="0.9"/>
<line x1="43.10" y1="214.44" x2="45.50" y2="214.44" stroke="#000" stroke-width="0.9"/>
<line x1="43.10" y1="213.00" x2="45.50" y2="213.00" stroke="#000" stroke-width="0.9"/>
<line x1="43.10" y1="211.73" x2="45.50" y2="211.73" stroke="#000" stroke-width="0.9"/>
<line x1="40.70" y1="210.60" x2="45.50" y2="210.60" stroke="#000" stroke-width="0.9"/>
<line x1="43.10" y1="203.13" x2="45.50" y2="203.13" stroke="#000" stroke-width="0.9"/>
<line x1="43.10" y1="198.77" x2="45.50" y2="198.77" stroke="#000" stroke-width="0.9"/>
<line x1="43.10" y1="195.67" x2="45.50" y2="195.67" stroke="#000" stroke-width="0.9"/>
<line x1="43.10" y1="193.27" x2="45.50" y2="193.27" stroke="#000" stroke-width="0.9"/>
<line x1="43.10" y1="191.30" x2="45.50" y2="191.30" stroke="#000" stroke-width="0.9"/>
<line x1="43.10" y1="189.64" x2="45.50" y2="189.64" stroke="#000" stroke-width="0.9"/>
<line x1="43.10" y1="188.20" x2="45.50" y2="188.20" stroke="#000" stroke-width="0.9"/>
<line x1="43.10" y1="186.93" x2="45.50" y2="186.93" stroke="#000" stroke-width="0.9"/>
<line x1="40.70" y1="185.80" x2="45.50" y2="185.80" stroke="#000" stroke-width="0.9"/>
<line x1="45.90" y1="285.00" x2="45.90" y2="289.80" stroke="#000" stroke-width="1.1"/>
<line x1="50.28" y1="285.00" x2="50.28" y2="287.60" stroke="#000" stroke-width="1.1"/>
<line x1="54.67" y1="285.00" x2="54.67" y2="287.60" stroke="#000" stroke-width="1.1"/>
<line x1="59.05" y1="285.00" x2="59.05" y2="287.60" stroke="#000" stroke-width="1.1"/>
<line x1="63.44" y1="285.00" x2="63.44" y2="287.60" stroke="#000" stroke-width="1.1"/>
<line x1="67.82" y1="285.00" x2="67.82" y2="289.80" stroke="#000" stroke-width="1.1"/>
<line x1="72.20" y1="285.00" x2="72.20" y2="287.60" stroke="#000" stroke-width="1.1"/>
<line x1="76.59" y1="285.00" x2="76.59" y2="287.60" stroke="#000" stroke-width="1.1"/>
<line x1="80.97" y1="285.00" x2="80.97" y2="287.60" stroke="#000" stroke-width="1.1"/>
<line x1="85.36" y1="285.00" x2="85.36" y2="287.60" stroke="#000" stroke-width="1.1"/>
<line x1="89.74" y1="285.00" x2="89.74" y2="289.80" stroke="#000" stroke-width="1.1"/>
<line x1="94.12" y1="285.00" x2="94.12" y2="287.60" stroke="#000" stroke-width="1.1"/>
<line x1="98.51" y1="285.00" x2="98.51" y2="287.60" stroke="#000" stroke-width="1.1"/>
<line x1="102.89" y1="285.00" x2="102.89" y2="287.60" stroke="#000" stroke-width="1.1"/>
<line x1="107.28" y1="285.00" x2="107.28" y2="287.60" stroke="#000" stroke-width="1.1"/>
<line x1="111.66" y1="285.00" x2="111.66" y2="289.80" stroke="#000" stroke-width="1.1"/>
<line x1="116.04" y1="285.00" x2="116.04" y2="287.60" stroke="#000" stroke-width="1.1"/>
<line x1="120.43" y1="285.00" x2="120.43" y2="287.60" stroke="#000" stroke-width="1.1"/>
<line x1="124.81" y1="285.00" x2="124.81" y2="287.60" stroke="#000" stroke-width="1.1"/>
<line x1="129.20" y1="285.00" x2="129.20" y2="287.60" stroke="#000" stroke-width="1.1"/>
<line x1="133.58" y1="285.00" x2="133.58" y2="289.80" stroke="#000" stroke-width="1.1"/>
<line x1="137.96" y1="285.00" x2="137.96" y2="287.60" stroke="#000" stroke-width="1.1"/>
<line x1="142.35" y1="285.00" x2="142.35" y2="287.60" stroke="#000" stroke-width="1.1"/>
<line x1="146.73" y1="285.00" x2="146.73" y2="287.60" stroke="#000" stroke-width="1.1"/>
<line x1="151.12" y1="285.00" x2="151.12" y2="287.60" stroke="#000" stroke-width="1.1"/>
<line x1="155.50" y1="285.00" x2="155.50" y2="289.80" stroke="#000" stroke-width="1.1"/>
<text x="36.90" y="283.00" font-size="8.3" text-anchor="middle" stroke="#000" stroke-width="0.25" transform="rotate(-90 36.90 283.00)">10<tspan dy="-5.2" font-size="8.3">0</tspan></text>
<text x="36.90" y="260.20" font-size="8.3" text-anchor="middle" stroke="#000" stroke-width="0.25" transform="rotate(-90 36.90 260.20)">10<tspan dy="-5.2" font-size="8.3">1</tspan></text>
<text x="36.90" y="235.40" font-size="8.3" text-anchor="middle" stroke="#000" stroke-width="0.25" transform="rotate(-90 36.90 235.40)">10<tspan dy="-5.2" font-size="8.3">2</tspan></text>
<text x="36.90" y="210.60" font-size="8.3" text-anchor="middle" stroke="#000" stroke-width="0.25" transform="rotate(-90 36.90 210.60)">10<tspan dy="-5.2" font-size="8.3">3</tspan></text>
<text x="36.90" y="185.80" font-size="8.3" text-anchor="middle" stroke="#000" stroke-width="0.25" transform="rotate(-90 36.90 185.80)">10<tspan dy="-5.2" font-size="8.3">4</tspan></text>
<text x="25.70" y="236.70" font-size="9" text-anchor="middle" font-weight="normal" stroke="#000" stroke-width="0.25" transform="rotate(-90 25.70 236.70)">Ki67 FITC</text>
<text x="46.40" y="297.00" font-size="8.5" text-anchor="middle" font-weight="normal" stroke="#000" stroke-width="0.25">0</text>
<text x="68.32" y="297.00" font-size="8.5" text-anchor="middle" font-weight="normal" stroke="#000" stroke-width="0.25">200</text>
<text x="90.24" y="297.00" font-size="8.5" text-anchor="middle" font-weight="normal" stroke="#000" stroke-width="0.25">400</text>
<text x="112.16" y="297.00" font-size="8.5" text-anchor="middle" font-weight="normal" stroke="#000" stroke-width="0.25">600</text>
<text x="134.08" y="297.00" font-size="8.5" text-anchor="middle" font-weight="normal" stroke="#000" stroke-width="0.25">800</text>
<text x="156.00" y="297.00" font-size="8.5" text-anchor="middle" font-weight="normal" stroke="#000" stroke-width="0.25">1000</text>
<text x="100.70" y="308.90" font-size="9" text-anchor="middle" font-weight="normal" stroke="#000" stroke-width="0.25">7AAD-H</text>
<text x="131.20" y="199.20" font-size="9.2" text-anchor="middle" font-weight="normal" stroke="#000" stroke-width="0.25">TOTAL</text>
<line x1="65.60" y1="185.80" x2="65.60" y2="285.00" stroke="#000" stroke-width="1.3"/>
<line x1="45.50" y1="260.50" x2="111.00" y2="260.50" stroke="#000" stroke-width="1.3"/>
<path d="M60,243h23v1h-23zM60,239h1v1h-1zM62,239h14v1h-14zM80,239h1v1h-1zM57,248h1v1h-1zM59,248h18v1h-18zM59,244h10v1h-10zM70,244h11v1h-11zM84,244h1v1h-1zM105,244h1v1h-1zM58,257h4v1h-4zM63,257h5v1h-5zM70,257h1v1h-1zM58,253h17v1h-17zM76,253h2v1h-2zM83,253h1v1h-1zM56,262h8v1h-8zM58,245h1v1h-1zM60,245h22v1h-22zM58,275h3v1h-3zM64,275h1v1h-1zM57,249h20v1h-20zM80,249h1v1h-1zM58,254h19v1h-19zM56,246h1v1h-1zM59,246h5v1h-5zM65,246h12v1h-12zM78,246h2v1h-2zM82,246h1v1h-1zM85,246h1v1h-1zM60,242h11v1h-11zM73,242h9v1h-9zM58,255h16v1h-16zM76,255h1v1h-1zM58,251h18v1h-18zM77,251h1v1h-1zM57,260h9v1h-9zM67,238h2v1h-2zM71,238h1v1h-1zM74,238h1v1h-1zM77,238h1v1h-1zM81,238h1v1h-1zM56,269h7v1h-7zM58,252h17v1h-17zM76,252h1v1h-1zM80,252h1v1h-1zM55,261h2v1h-2zM58,261h7v1h-7zM68,261h1v1h-1zM57,270h6v1h-6zM64,270h1v1h-1zM56,258h9v1h-9zM66,258h3v1h-3zM61,241h18v1h-18zM100,241h1v1h-1zM59,250h7v1h-7zM67,250h8v1h-8zM76,250h1v1h-1zM78,250h1v1h-1zM57,259h9v1h-9zM57,264h7v1h-7zM59,280h1v1h-1zM63,280h1v1h-1zM58,256h13v1h-13zM72,256h2v1h-2zM77,256h1v1h-1zM56,265h8v1h-8zM84,232h1v1h-1zM89,232h1v1h-1zM58,274h3v1h-3zM56,267h7v1h-7zM56,247h1v1h-1zM58,247h8v1h-8zM67,247h8v1h-8zM78,247h2v1h-2zM62,240h3v1h-3zM66,240h12v1h-12zM58,273h4v1h-4zM63,237h1v1h-1zM67,237h1v1h-1zM79,237h1v1h-1zM57,268h6v1h-6zM57,263h7v1h-7zM77,263h1v1h-1zM55,272h1v1h-1zM57,272h6v1h-6zM60,236h1v1h-1zM75,236h1v1h-1zM77,236h1v1h-1zM95,221h1v1h-1zM65,233h1v1h-1zM83,233h1v1h-1zM86,233h1v1h-1zM56,266h7v1h-7zM55,271h1v1h-1zM57,271h6v1h-6zM59,279h1v1h-1zM61,279h1v1h-1zM60,282h1v1h-1zM59,276h2v1h-2zM61,278h1v1h-1zM58,277h1v1h-1zM58,281h1v1h-1z" fill="#000"/>
<text x="214.40" y="180.80" font-size="11" text-anchor="start" font-weight="bold" stroke="#000" stroke-width="0.1">E</text>
<rect x="216.60" y="186.20" width="113.40" height="98.80" fill="none" stroke="#000" stroke-width="1.2"/>
<line x1="211.80" y1="285.00" x2="216.60" y2="285.00" stroke="#000" stroke-width="0.9"/>
<line x1="214.20" y1="277.56" x2="216.60" y2="277.56" stroke="#000" stroke-width="0.9"/>
<line x1="214.20" y1="273.22" x2="216.60" y2="273.22" stroke="#000" stroke-width="0.9"/>
<line x1="214.20" y1="270.13" x2="216.60" y2="270.13" stroke="#000" stroke-width="0.9"/>
<line x1="214.20" y1="267.74" x2="216.60" y2="267.74" stroke="#000" stroke-width="0.9"/>
<line x1="214.20" y1="265.78" x2="216.60" y2="265.78" stroke="#000" stroke-width="0.9"/>
<line x1="214.20" y1="264.13" x2="216.60" y2="264.13" stroke="#000" stroke-width="0.9"/>
<line x1="214.20" y1="262.69" x2="216.60" y2="262.69" stroke="#000" stroke-width="0.9"/>
<line x1="214.20" y1="261.43" x2="216.60" y2="261.43" stroke="#000" stroke-width="0.9"/>
<line x1="211.80" y1="260.30" x2="216.60" y2="260.30" stroke="#000" stroke-width="0.9"/>
<line x1="214.20" y1="252.86" x2="216.60" y2="252.86" stroke="#000" stroke-width="0.9"/>
<line x1="214.20" y1="248.52" x2="216.60" y2="248.52" stroke="#000" stroke-width="0.9"/>
<line x1="214.20" y1="245.43" x2="216.60" y2="245.43" stroke="#000" stroke-width="0.9"/>
<line x1="214.20" y1="243.04" x2="216.60" y2="243.04" stroke="#000" stroke-width="0.9"/>
<line x1="214.20" y1="241.08" x2="216.60" y2="241.08" stroke="#000" stroke-width="0.9"/>
<line x1="214.20" y1="239.43" x2="216.60" y2="239.43" stroke="#000" stroke-width="0.9"/>
<line x1="214.20" y1="237.99" x2="216.60" y2="237.99" stroke="#000" stroke-width="0.9"/>
<line x1="214.20" y1="236.73" x2="216.60" y2="236.73" stroke="#000" stroke-width="0.9"/>
<line x1="211.80" y1="235.60" x2="216.60" y2="235.60" stroke="#000" stroke-width="0.9"/>
<line x1="214.20" y1="228.16" x2="216.60" y2="228.16" stroke="#000" stroke-width="0.9"/>
<line x1="214.20" y1="223.82" x2="216.60" y2="223.82" stroke="#000" stroke-width="0.9"/>
<line x1="214.20" y1="220.73" x2="216.60" y2="220.73" stroke="#000" stroke-width="0.9"/>
<line x1="214.20" y1="218.34" x2="216.60" y2="218.34" stroke="#000" stroke-width="0.9"/>
<line x1="214.20" y1="216.38" x2="216.60" y2="216.38" stroke="#000" stroke-width="0.9"/>
<line x1="214.20" y1="214.73" x2="216.60" y2="214.73" stroke="#000" stroke-width="0.9"/>
<line x1="214.20" y1="213.29" x2="216.60" y2="213.29" stroke="#000" stroke-width="0.9"/>
<line x1="214.20" y1="212.03" x2="216.60" y2="212.03" stroke="#000" stroke-width="0.9"/>
<line x1="211.80" y1="210.90" x2="216.60" y2="210.90" stroke="#000" stroke-width="0.9"/>
<line x1="214.20" y1="203.46" x2="216.60" y2="203.46" stroke="#000" stroke-width="0.9"/>
<line x1="214.20" y1="199.12" x2="216.60" y2="199.12" stroke="#000" stroke-width="0.9"/>
<line x1="214.20" y1="196.03" x2="216.60" y2="196.03" stroke="#000" stroke-width="0.9"/>
<line x1="214.20" y1="193.64" x2="216.60" y2="193.64" stroke="#000" stroke-width="0.9"/>
<line x1="214.20" y1="191.68" x2="216.60" y2="191.68" stroke="#000" stroke-width="0.9"/>
<line x1="214.20" y1="190.03" x2="216.60" y2="190.03" stroke="#000" stroke-width="0.9"/>
<line x1="214.20" y1="188.59" x2="216.60" y2="188.59" stroke="#000" stroke-width="0.9"/>
<line x1="214.20" y1="187.33" x2="216.60" y2="187.33" stroke="#000" stroke-width="0.9"/>
<line x1="211.80" y1="186.20" x2="216.60" y2="186.20" stroke="#000" stroke-width="0.9"/>
<line x1="217.00" y1="285.00" x2="217.00" y2="289.80" stroke="#000" stroke-width="1.1"/>
<line x1="221.38" y1="285.00" x2="221.38" y2="287.60" stroke="#000" stroke-width="1.1"/>
<line x1="225.77" y1="285.00" x2="225.77" y2="287.60" stroke="#000" stroke-width="1.1"/>
<line x1="230.15" y1="285.00" x2="230.15" y2="287.60" stroke="#000" stroke-width="1.1"/>
<line x1="234.54" y1="285.00" x2="234.54" y2="287.60" stroke="#000" stroke-width="1.1"/>
<line x1="238.92" y1="285.00" x2="238.92" y2="289.80" stroke="#000" stroke-width="1.1"/>
<line x1="243.30" y1="285.00" x2="243.30" y2="287.60" stroke="#000" stroke-width="1.1"/>
<line x1="247.69" y1="285.00" x2="247.69" y2="287.60" stroke="#000" stroke-width="1.1"/>
<line x1="252.07" y1="285.00" x2="252.07" y2="287.60" stroke="#000" stroke-width="1.1"/>
<line x1="256.46" y1="285.00" x2="256.46" y2="287.60" stroke="#000" stroke-width="1.1"/>
<line x1="260.84" y1="285.00" x2="260.84" y2="289.80" stroke="#000" stroke-width="1.1"/>
<line x1="265.22" y1="285.00" x2="265.22" y2="287.60" stroke="#000" stroke-width="1.1"/>
<line x1="269.61" y1="285.00" x2="269.61" y2="287.60" stroke="#000" stroke-width="1.1"/>
<line x1="273.99" y1="285.00" x2="273.99" y2="287.60" stroke="#000" stroke-width="1.1"/>
<line x1="278.38" y1="285.00" x2="278.38" y2="287.60" stroke="#000" stroke-width="1.1"/>
<line x1="282.76" y1="285.00" x2="282.76" y2="289.80" stroke="#000" stroke-width="1.1"/>
<line x1="287.14" y1="285.00" x2="287.14" y2="287.60" stroke="#000" stroke-width="1.1"/>
<line x1="291.53" y1="285.00" x2="291.53" y2="287.60" stroke="#000" stroke-width="1.1"/>
<line x1="295.91" y1="285.00" x2="295.91" y2="287.60" stroke="#000" stroke-width="1.1"/>
<line x1="300.30" y1="285.00" x2="300.30" y2="287.60" stroke="#000" stroke-width="1.1"/>
<line x1="304.68" y1="285.00" x2="304.68" y2="289.80" stroke="#000" stroke-width="1.1"/>
<line x1="309.06" y1="285.00" x2="309.06" y2="287.60" stroke="#000" stroke-width="1.1"/>
<line x1="313.45" y1="285.00" x2="313.45" y2="287.60" stroke="#000" stroke-width="1.1"/>
<line x1="317.83" y1="285.00" x2="317.83" y2="287.60" stroke="#000" stroke-width="1.1"/>
<line x1="322.22" y1="285.00" x2="322.22" y2="287.60" stroke="#000" stroke-width="1.1"/>
<line x1="326.60" y1="285.00" x2="326.60" y2="289.80" stroke="#000" stroke-width="1.1"/>
<text x="208.00" y="283.00" font-size="8.3" text-anchor="middle" stroke="#000" stroke-width="0.25" transform="rotate(-90 208.00 283.00)">10<tspan dy="-5.2" font-size="8.3">0</tspan></text>
<text x="208.00" y="260.30" font-size="8.3" text-anchor="middle" stroke="#000" stroke-width="0.25" transform="rotate(-90 208.00 260.30)">10<tspan dy="-5.2" font-size="8.3">1</tspan></text>
<text x="208.00" y="235.60" font-size="8.3" text-anchor="middle" stroke="#000" stroke-width="0.25" transform="rotate(-90 208.00 235.60)">10<tspan dy="-5.2" font-size="8.3">2</tspan></text>
<text x="208.00" y="210.90" font-size="8.3" text-anchor="middle" stroke="#000" stroke-width="0.25" transform="rotate(-90 208.00 210.90)">10<tspan dy="-5.2" font-size="8.3">3</tspan></text>
<text x="208.00" y="186.20" font-size="8.3" text-anchor="middle" stroke="#000" stroke-width="0.25" transform="rotate(-90 208.00 186.20)">10<tspan dy="-5.2" font-size="8.3">4</tspan></text>
<text x="196.80" y="236.70" font-size="9" text-anchor="middle" font-weight="normal" stroke="#000" stroke-width="0.25" transform="rotate(-90 196.80 236.70)">Ki67 FITC</text>
<text x="217.50" y="297.00" font-size="8.5" text-anchor="middle" font-weight="normal" stroke="#000" stroke-width="0.25">0</text>
<text x="239.42" y="297.00" font-size="8.5" text-anchor="middle" font-weight="normal" stroke="#000" stroke-width="0.25">200</text>
<text x="261.34" y="297.00" font-size="8.5" text-anchor="middle" font-weight="normal" stroke="#000" stroke-width="0.25">400</text>
<text x="283.26" y="297.00" font-size="8.5" text-anchor="middle" font-weight="normal" stroke="#000" stroke-width="0.25">600</text>
<text x="305.18" y="297.00" font-size="8.5" text-anchor="middle" font-weight="normal" stroke="#000" stroke-width="0.25">800</text>
<text x="327.10" y="297.00" font-size="8.5" text-anchor="middle" font-weight="normal" stroke="#000" stroke-width="0.25">1000</text>
<text x="271.80" y="308.90" font-size="9" text-anchor="middle" font-weight="normal" stroke="#000" stroke-width="0.25">7AAD-H</text>
<text x="318.00" y="199.20" font-size="9.2" text-anchor="middle" font-weight="normal" stroke="#000" stroke-width="0.25">R3</text>
<line x1="237.30" y1="186.20" x2="237.30" y2="285.00" stroke="#000" stroke-width="1.3"/>
<line x1="216.60" y1="260.50" x2="282.00" y2="260.50" stroke="#000" stroke-width="1.3"/>
<path d="M229,270h6v1h-6zM232,252h8v1h-8zM241,252h1v1h-1zM243,252h1v1h-1zM250,252h1v1h-1zM230,249h1v1h-1zM232,249h10v1h-10zM244,249h2v1h-2zM249,249h1v1h-1zM233,248h7v1h-7zM241,248h5v1h-5zM237,245h8v1h-8zM258,245h1v1h-1zM229,261h2v1h-2zM232,261h5v1h-5zM238,261h1v1h-1zM240,261h1v1h-1zM230,258h2v1h-2zM233,258h9v1h-9zM230,255h3v1h-3zM234,255h9v1h-9zM230,257h11v1h-11zM230,254h10v1h-10zM241,254h2v1h-2zM248,254h1v1h-1zM230,262h1v1h-1zM232,262h5v1h-5zM230,266h5v1h-5zM229,263h7v1h-7zM231,272h3v1h-3zM233,250h9v1h-9zM244,250h1v1h-1zM235,246h12v1h-12zM248,246h1v1h-1zM229,259h11v1h-11zM232,251h11v1h-11zM244,251h1v1h-1zM228,268h1v1h-1zM230,268h4v1h-4zM231,267h4v1h-4zM231,256h12v1h-12zM230,265h6v1h-6zM253,242h1v1h-1zM228,269h1v1h-1zM230,269h4v1h-4zM233,247h9v1h-9zM244,247h2v1h-2zM260,247h1v1h-1zM232,253h11v1h-11zM239,244h1v1h-1zM242,244h2v1h-2zM230,271h2v1h-2zM233,271h2v1h-2zM230,264h5v1h-5zM231,273h3v1h-3zM231,282h1v1h-1zM230,260h1v1h-1zM232,260h7v1h-7zM230,274h1v1h-1zM232,280h1v1h-1zM232,275h1v1h-1zM244,240h1v1h-1zM232,277h1v1h-1z" fill="#000"/>
<text x="392.30" y="180.80" font-size="11" text-anchor="start" font-weight="bold" stroke="#000" stroke-width="0.1">F</text>
<rect x="390.00" y="186.30" width="112.80" height="98.70" fill="none" stroke="#000" stroke-width="1.2"/>
<line x1="385.20" y1="285.00" x2="390.00" y2="285.00" stroke="#000" stroke-width="0.9"/>
<line x1="387.60" y1="277.57" x2="390.00" y2="277.57" stroke="#000" stroke-width="0.9"/>
<line x1="387.60" y1="273.23" x2="390.00" y2="273.23" stroke="#000" stroke-width="0.9"/>
<line x1="387.60" y1="270.14" x2="390.00" y2="270.14" stroke="#000" stroke-width="0.9"/>
<line x1="387.60" y1="267.75" x2="390.00" y2="267.75" stroke="#000" stroke-width="0.9"/>
<line x1="387.60" y1="265.80" x2="390.00" y2="265.80" stroke="#000" stroke-width="0.9"/>
<line x1="387.60" y1="264.15" x2="390.00" y2="264.15" stroke="#000" stroke-width="0.9"/>
<line x1="387.60" y1="262.72" x2="390.00" y2="262.72" stroke="#000" stroke-width="0.9"/>
<line x1="387.60" y1="261.45" x2="390.00" y2="261.45" stroke="#000" stroke-width="0.9"/>
<line x1="385.20" y1="260.32" x2="390.00" y2="260.32" stroke="#000" stroke-width="0.9"/>
<line x1="387.60" y1="252.90" x2="390.00" y2="252.90" stroke="#000" stroke-width="0.9"/>
<line x1="387.60" y1="248.55" x2="390.00" y2="248.55" stroke="#000" stroke-width="0.9"/>
<line x1="387.60" y1="245.47" x2="390.00" y2="245.47" stroke="#000" stroke-width="0.9"/>
<line x1="387.60" y1="243.08" x2="390.00" y2="243.08" stroke="#000" stroke-width="0.9"/>
<line x1="387.60" y1="241.12" x2="390.00" y2="241.12" stroke="#000" stroke-width="0.9"/>
<line x1="387.60" y1="239.47" x2="390.00" y2="239.47" stroke="#000" stroke-width="0.9"/>
<line x1="387.60" y1="238.04" x2="390.00" y2="238.04" stroke="#000" stroke-width="0.9"/>
<line x1="387.60" y1="236.78" x2="390.00" y2="236.78" stroke="#000" stroke-width="0.9"/>
<line x1="385.20" y1="235.65" x2="390.00" y2="235.65" stroke="#000" stroke-width="0.9"/>
<line x1="387.60" y1="228.22" x2="390.00" y2="228.22" stroke="#000" stroke-width="0.9"/>
<line x1="387.60" y1="223.88" x2="390.00" y2="223.88" stroke="#000" stroke-width="0.9"/>
<line x1="387.60" y1="220.79" x2="390.00" y2="220.79" stroke="#000" stroke-width="0.9"/>
<line x1="387.60" y1="218.40" x2="390.00" y2="218.40" stroke="#000" stroke-width="0.9"/>
<line x1="387.60" y1="216.45" x2="390.00" y2="216.45" stroke="#000" stroke-width="0.9"/>
<line x1="387.60" y1="214.80" x2="390.00" y2="214.80" stroke="#000" stroke-width="0.9"/>
<line x1="387.60" y1="213.37" x2="390.00" y2="213.37" stroke="#000" stroke-width="0.9"/>
<line x1="387.60" y1="212.10" x2="390.00" y2="212.10" stroke="#000" stroke-width="0.9"/>
<line x1="385.20" y1="210.98" x2="390.00" y2="210.98" stroke="#000" stroke-width="0.9"/>
<line x1="387.60" y1="203.55" x2="390.00" y2="203.55" stroke="#000" stroke-width="0.9"/>
<line x1="387.60" y1="199.20" x2="390.00" y2="199.20" stroke="#000" stroke-width="0.9"/>
<line x1="387.60" y1="196.12" x2="390.00" y2="196.12" stroke="#000" stroke-width="0.9"/>
<line x1="387.60" y1="193.73" x2="390.00" y2="193.73" stroke="#000" stroke-width="0.9"/>
<line x1="387.60" y1="191.77" x2="390.00" y2="191.77" stroke="#000" stroke-width="0.9"/>
<line x1="387.60" y1="190.12" x2="390.00" y2="190.12" stroke="#000" stroke-width="0.9"/>
<line x1="387.60" y1="188.69" x2="390.00" y2="188.69" stroke="#000" stroke-width="0.9"/>
<line x1="387.60" y1="187.43" x2="390.00" y2="187.43" stroke="#000" stroke-width="0.9"/>
<line x1="385.20" y1="186.30" x2="390.00" y2="186.30" stroke="#000" stroke-width="0.9"/>
<line x1="390.40" y1="285.00" x2="390.40" y2="289.80" stroke="#000" stroke-width="1.1"/>
<line x1="394.78" y1="285.00" x2="394.78" y2="287.60" stroke="#000" stroke-width="1.1"/>
<line x1="399.17" y1="285.00" x2="399.17" y2="287.60" stroke="#000" stroke-width="1.1"/>
<line x1="403.55" y1="285.00" x2="403.55" y2="287.60" stroke="#000" stroke-width="1.1"/>
<line x1="407.94" y1="285.00" x2="407.94" y2="287.60" stroke="#000" stroke-width="1.1"/>
<line x1="412.32" y1="285.00" x2="412.32" y2="289.80" stroke="#000" stroke-width="1.1"/>
<line x1="416.70" y1="285.00" x2="416.70" y2="287.60" stroke="#000" stroke-width="1.1"/>
<line x1="421.09" y1="285.00" x2="421.09" y2="287.60" stroke="#000" stroke-width="1.1"/>
<line x1="425.47" y1="285.00" x2="425.47" y2="287.60" stroke="#000" stroke-width="1.1"/>
<line x1="429.86" y1="285.00" x2="429.86" y2="287.60" stroke="#000" stroke-width="1.1"/>
<line x1="434.24" y1="285.00" x2="434.24" y2="289.80" stroke="#000" stroke-width="1.1"/>
<line x1="438.62" y1="285.00" x2="438.62" y2="287.60" stroke="#000" stroke-width="1.1"/>
<line x1="443.01" y1="285.00" x2="443.01" y2="287.60" stroke="#000" stroke-width="1.1"/>
<line x1="447.39" y1="285.00" x2="447.39" y2="287.60" stroke="#000" stroke-width="1.1"/>
<line x1="451.78" y1="285.00" x2="451.78" y2="287.60" stroke="#000" stroke-width="1.1"/>
<line x1="456.16" y1="285.00" x2="456.16" y2="289.80" stroke="#000" stroke-width="1.1"/>
<line x1="460.54" y1="285.00" x2="460.54" y2="287.60" stroke="#000" stroke-width="1.1"/>
<line x1="464.93" y1="285.00" x2="464.93" y2="287.60" stroke="#000" stroke-width="1.1"/>
<line x1="469.31" y1="285.00" x2="469.31" y2="287.60" stroke="#000" stroke-width="1.1"/>
<line x1="473.70" y1="285.00" x2="473.70" y2="287.60" stroke="#000" stroke-width="1.1"/>
<line x1="478.08" y1="285.00" x2="478.08" y2="289.80" stroke="#000" stroke-width="1.1"/>
<line x1="482.46" y1="285.00" x2="482.46" y2="287.60" stroke="#000" stroke-width="1.1"/>
<line x1="486.85" y1="285.00" x2="486.85" y2="287.60" stroke="#000" stroke-width="1.1"/>
<line x1="491.23" y1="285.00" x2="491.23" y2="287.60" stroke="#000" stroke-width="1.1"/>
<line x1="495.62" y1="285.00" x2="495.62" y2="287.60" stroke="#000" stroke-width="1.1"/>
<line x1="500.00" y1="285.00" x2="500.00" y2="289.80" stroke="#000" stroke-width="1.1"/>
<text x="381.40" y="283.00" font-size="8.3" text-anchor="middle" stroke="#000" stroke-width="0.25" transform="rotate(-90 381.40 283.00)">10<tspan dy="-5.2" font-size="8.3">0</tspan></text>
<text x="381.40" y="260.32" font-size="8.3" text-anchor="middle" stroke="#000" stroke-width="0.25" transform="rotate(-90 381.40 260.32)">10<tspan dy="-5.2" font-size="8.3">1</tspan></text>
<text x="381.40" y="235.65" font-size="8.3" text-anchor="middle" stroke="#000" stroke-width="0.25" transform="rotate(-90 381.40 235.65)">10<tspan dy="-5.2" font-size="8.3">2</tspan></text>
<text x="381.40" y="210.98" font-size="8.3" text-anchor="middle" stroke="#000" stroke-width="0.25" transform="rotate(-90 381.40 210.98)">10<tspan dy="-5.2" font-size="8.3">3</tspan></text>
<text x="381.40" y="186.30" font-size="8.3" text-anchor="middle" stroke="#000" stroke-width="0.25" transform="rotate(-90 381.40 186.30)">10<tspan dy="-5.2" font-size="8.3">4</tspan></text>
<text x="370.20" y="236.70" font-size="9" text-anchor="middle" font-weight="normal" stroke="#000" stroke-width="0.25" transform="rotate(-90 370.20 236.70)">Ki67 FITC</text>
<text x="390.90" y="297.00" font-size="8.5" text-anchor="middle" font-weight="normal" stroke="#000" stroke-width="0.25">0</text>
<text x="412.82" y="297.00" font-size="8.5" text-anchor="middle" font-weight="normal" stroke="#000" stroke-width="0.25">200</text>
<text x="434.74" y="297.00" font-size="8.5" text-anchor="middle" font-weight="normal" stroke="#000" stroke-width="0.25">400</text>
<text x="456.66" y="297.00" font-size="8.5" text-anchor="middle" font-weight="normal" stroke="#000" stroke-width="0.25">600</text>
<text x="478.58" y="297.00" font-size="8.5" text-anchor="middle" font-weight="normal" stroke="#000" stroke-width="0.25">800</text>
<text x="500.50" y="297.00" font-size="8.5" text-anchor="middle" font-weight="normal" stroke="#000" stroke-width="0.25">1000</text>
<text x="445.20" y="308.90" font-size="9" text-anchor="middle" font-weight="normal" stroke="#000" stroke-width="0.25">7AAD-H</text>
<text x="489.20" y="199.20" font-size="9.2" text-anchor="middle" font-weight="normal" stroke="#000" stroke-width="0.25">R4</text>
<line x1="410.20" y1="186.30" x2="410.20" y2="285.00" stroke="#000" stroke-width="1.3"/>
<line x1="390.00" y1="260.50" x2="453.60" y2="260.50" stroke="#000" stroke-width="1.3"/>
<path d="M401,245h1v1h-1zM404,245h17v1h-17zM423,245h1v1h-1zM406,242h16v1h-16zM426,242h1v1h-1zM407,241h4v1h-4zM412,241h10v1h-10zM401,255h1v1h-1zM403,255h7v1h-7zM411,255h1v1h-1zM400,258h8v1h-8zM409,258h1v1h-1zM403,254h8v1h-8zM413,254h1v1h-1zM404,250h12v1h-12zM423,250h1v1h-1zM402,264h4v1h-4zM408,264h1v1h-1zM402,263h5v1h-5zM401,244h1v1h-1zM405,244h6v1h-6zM412,244h11v1h-11zM424,244h1v1h-1zM400,259h1v1h-1zM402,259h6v1h-6zM409,259h1v1h-1zM408,240h2v1h-2zM412,240h6v1h-6zM404,251h7v1h-7zM412,251h2v1h-2zM401,247h1v1h-1zM404,247h14v1h-14zM419,247h1v1h-1zM401,246h1v1h-1zM405,246h12v1h-12zM418,246h1v1h-1zM422,246h1v1h-1zM406,243h17v1h-17zM425,243h1v1h-1zM429,243h1v1h-1zM404,249h1v1h-1zM406,249h10v1h-10zM427,249h1v1h-1zM403,252h11v1h-11zM401,261h7v1h-7zM402,248h5v1h-5zM408,248h10v1h-10zM423,248h1v1h-1zM401,265h1v1h-1zM403,265h4v1h-4zM402,257h7v1h-7zM410,257h1v1h-1zM401,256h1v1h-1zM403,256h8v1h-8zM403,253h6v1h-6zM410,253h3v1h-3zM414,253h1v1h-1zM419,253h1v1h-1zM421,253h1v1h-1zM402,267h2v1h-2zM402,266h1v1h-1zM404,266h4v1h-4zM402,260h4v1h-4zM407,260h1v1h-1zM402,262h5v1h-5zM415,237h1v1h-1zM404,236h1v1h-1zM422,236h1v1h-1zM425,236h1v1h-1zM407,239h3v1h-3zM410,238h1v1h-1zM408,234h1v1h-1zM403,269h1v1h-1zM404,268h1v1h-1z" fill="#000"/>
</svg>
<div class="tl" style="left:48.1px;top:363.8px;width:471.9px;height:1.25px"></div>
<div class="tl" style="left:48.1px;top:363.8px;width:1.3px;height:93.2px"></div>

<div class="hd" style="left:58px;top:347.3px">TOTAL CD34<sup>+</sup></div>
<div class="hd" style="left:235.3px;top:347.5px">CD34<sup>+</sup>FLT3<sup class="w">low</sup></div>
<div class="hd" style="left:403.5px;top:347.5px">CD34<sup>+</sup>FLT3<sup class="w">high</sup></div>
<div class="rl" style="left:12.4px;top:370.9px">G<sub>0</sub></div>
<div class="rl" style="left:12.4px;top:403.8px">G<sub>1</sub></div>
<div class="rl" style="left:-0.2px;top:433.4px">S/G<sub>2</sub>/M</div>
<div class="cl" style="left:38.5px;top:374.0px">15.6%</div>
<div class="cl" style="left:214.2px;top:374.0px">40.8% (9%)</div>
<div class="cl" style="left:384.3px;top:374.0px">1.5% (0.7%)</div>
<div class="cl" style="left:38.5px;top:405.5px">61.5%</div>
<div class="cl" style="left:214.2px;top:405.5px">36.8% (8%)</div>
<div class="cl" style="left:384.3px;top:405.5px">75.3% (30.5%)</div>
<div class="cl" style="left:38.5px;top:435.8px">22.7%</div>
<div class="cl" style="left:214.2px;top:435.8px">22.1% (5.2%)</div>
<div class="cl" style="left:384.3px;top:435.8px">23.2% (10%)</div>

</body></html>
